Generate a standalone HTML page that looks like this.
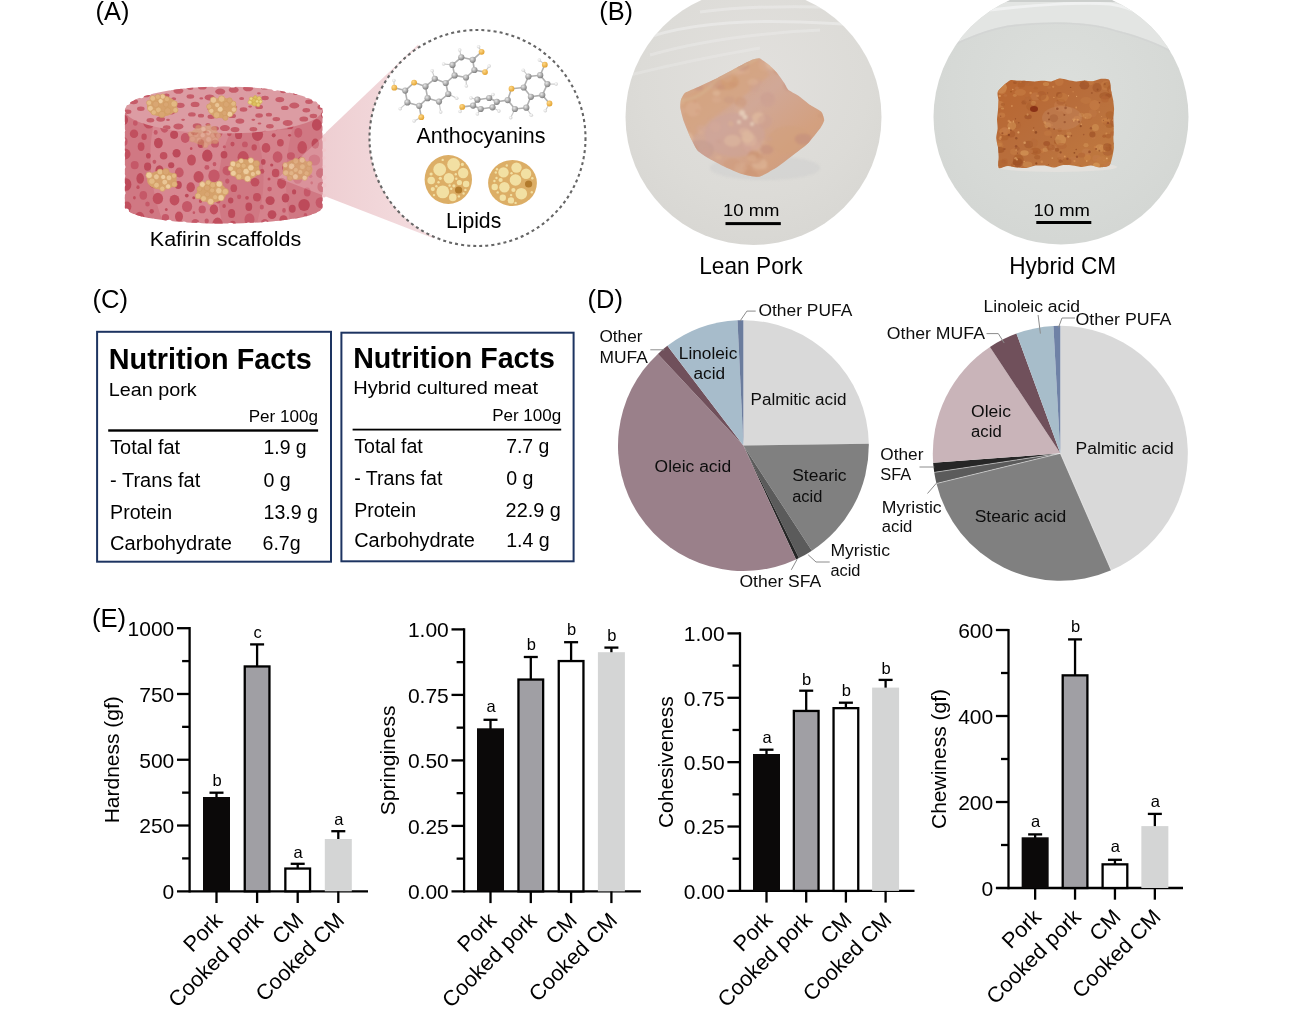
<!DOCTYPE html>
<html><head><meta charset="utf-8"><title>Figure</title>
<style>html,body{margin:0;padding:0;background:#fff;overflow:hidden}svg{display:block;will-change:transform}</style></head>
<body><svg width="1304" height="1017" viewBox="0 0 1304 1017" font-family="'Liberation Sans', Arial, Helvetica, sans-serif">
<rect width="1304" height="1017" fill="#fff"/>
<text x="95.60" y="19.80" font-size="26" fill="#000" textLength="33.88" lengthAdjust="spacingAndGlyphs">(A)</text>
<text x="599.20" y="19.80" font-size="26" fill="#000" textLength="33.88" lengthAdjust="spacingAndGlyphs">(B)</text>
<text x="92.40" y="308.30" font-size="26" fill="#000" textLength="35.55" lengthAdjust="spacingAndGlyphs">(C)</text>
<text x="587.60" y="308.20" font-size="26" fill="#000" textLength="35.35" lengthAdjust="spacingAndGlyphs">(D)</text>
<text x="91.90" y="627.20" font-size="26" fill="#000" textLength="34.18" lengthAdjust="spacingAndGlyphs">(E)</text>
<defs><linearGradient id="cone" x1="0" y1="0" x2="1" y2="0">
<stop offset="0" stop-color="#ecc8cc"/><stop offset="0.5" stop-color="#f1d6d9"/><stop offset="1" stop-color="#f6e2e4"/></linearGradient><radialGradient id="atomg" cx="0.38" cy="0.35" r="0.65"><stop offset="0" stop-color="#e8e8e8"/><stop offset="1" stop-color="#808080"/></radialGradient><radialGradient id="atomo" cx="0.38" cy="0.35" r="0.65"><stop offset="0" stop-color="#ffd98a"/><stop offset="1" stop-color="#e2a230"/></radialGradient><radialGradient id="atomh" cx="0.4" cy="0.4" r="0.6"><stop offset="0" stop-color="#ffffff"/><stop offset="1" stop-color="#cfcfcf"/></radialGradient><clipPath id="cylc"><path d="M124.89999999999999,110.0 L124.89999999999999,207.5 A98.8,16.0 0 0 0 322.5,207.5 L322.5,110.0 Z"/></clipPath><clipPath id="topc"><ellipse cx="223.7" cy="110.0" rx="98.8" ry="23.5"/></clipPath></defs>
<path d="M278,178 L418,44.5 L477.5,138 L434,238.5 Z" fill="url(#cone)"/>
<g><path d="M124.89999999999999,110.0 L124.89999999999999,207.5 A98.8,16.0 0 0 0 322.5,207.5 L322.5,110.0 Z" fill="#d07883"/><g clip-path="url(#cylc)"><path d="M155,118 Q142,170 165,228 L225,232 Q208,180 232,128 Z" fill="#d98c95" opacity="0.75"/><path d="M255,130 Q272,175 255,230 L292,230 Q280,180 292,130 Z" fill="#d98c95" opacity="0.5"/><ellipse cx="214.0" cy="175.8" rx="5.7" ry="6.4" fill="#c55868"/><ellipse cx="213.9" cy="209.5" rx="4.2" ry="5.0" fill="#c14f5e"/><ellipse cx="159.5" cy="170.4" rx="4.1" ry="5.2" fill="#bd4a5a"/><ellipse cx="141.1" cy="146.6" rx="3.4" ry="4.4" fill="#c14f5e"/><ellipse cx="231.6" cy="213.5" rx="3.6" ry="4.5" fill="#bd4a5a"/><ellipse cx="243.1" cy="157.2" rx="5.6" ry="6.1" fill="#c14f5e"/><ellipse cx="255.0" cy="182.2" rx="4.4" ry="4.2" fill="#c14f5e"/><ellipse cx="248.8" cy="206.8" rx="3.4" ry="4.2" fill="#bd4a5a"/><ellipse cx="134.0" cy="133.7" rx="4.2" ry="4.3" fill="#c14f5e"/><ellipse cx="252.3" cy="169.0" rx="3.7" ry="4.4" fill="#c14f5e"/><ellipse cx="215.0" cy="143.7" rx="3.9" ry="3.9" fill="#c55868"/><ellipse cx="266.0" cy="147.9" rx="4.3" ry="4.9" fill="#c14f5e"/><ellipse cx="226.3" cy="115.4" rx="3.8" ry="4.0" fill="#bd4a5a"/><ellipse cx="135.5" cy="113.9" rx="3.4" ry="4.1" fill="#c55868"/><ellipse cx="165.4" cy="217.7" rx="3.7" ry="3.8" fill="#c55868"/><ellipse cx="217.6" cy="223.8" rx="5.1" ry="6.2" fill="#c14f5e"/><ellipse cx="280.4" cy="142.8" rx="3.4" ry="3.7" fill="#c14f5e"/><ellipse cx="185.3" cy="113.7" rx="5.6" ry="5.8" fill="#bd4a5a"/><ellipse cx="276.2" cy="125.5" rx="4.2" ry="4.7" fill="#c14f5e"/><ellipse cx="265.8" cy="113.2" rx="5.0" ry="5.5" fill="#c14f5e"/><ellipse cx="207.3" cy="155.7" rx="5.2" ry="6.1" fill="#bd4a5a"/><ellipse cx="297.9" cy="223.1" rx="4.8" ry="5.7" fill="#c55868"/><ellipse cx="325.1" cy="114.2" rx="4.2" ry="5.1" fill="#bd4a5a"/><ellipse cx="202.2" cy="209.4" rx="3.6" ry="3.9" fill="#c55868"/><ellipse cx="174.5" cy="200.1" rx="4.9" ry="5.3" fill="#c14f5e"/><ellipse cx="290.9" cy="156.0" rx="4.0" ry="3.7" fill="#c55868"/><ellipse cx="140.2" cy="178.4" rx="3.8" ry="5.3" fill="#bd4a5a"/><ellipse cx="125.1" cy="154.0" rx="5.5" ry="5.4" fill="#c14f5e"/><ellipse cx="298.3" cy="132.8" rx="4.0" ry="4.9" fill="#c55868"/><ellipse cx="185.2" cy="138.0" rx="4.4" ry="4.9" fill="#c55868"/><ellipse cx="147.6" cy="166.6" rx="3.6" ry="4.2" fill="#bd4a5a"/><ellipse cx="179.0" cy="216.6" rx="4.0" ry="5.0" fill="#c14f5e"/><ellipse cx="212.6" cy="118.9" rx="4.5" ry="5.0" fill="#c55868"/><ellipse cx="179.3" cy="172.5" rx="4.4" ry="5.1" fill="#c55868"/><ellipse cx="321.5" cy="186.9" rx="4.1" ry="5.2" fill="#c14f5e"/><ellipse cx="307.2" cy="191.9" rx="3.4" ry="4.5" fill="#c55868"/><ellipse cx="126.2" cy="184.5" rx="5.2" ry="6.3" fill="#bd4a5a"/><ellipse cx="272.0" cy="214.6" rx="4.4" ry="4.4" fill="#bd4a5a"/><ellipse cx="297.7" cy="177.3" rx="4.9" ry="6.5" fill="#c55868"/><ellipse cx="199.1" cy="113.4" rx="4.0" ry="3.9" fill="#bd4a5a"/><ellipse cx="227.5" cy="170.7" rx="5.0" ry="4.8" fill="#c55868"/><ellipse cx="316.8" cy="124.9" rx="4.9" ry="5.9" fill="#bd4a5a"/><ellipse cx="257.5" cy="134.6" rx="5.6" ry="6.3" fill="#bd4a5a"/><ellipse cx="285.5" cy="198.0" rx="3.8" ry="4.5" fill="#bd4a5a"/><ellipse cx="164.6" cy="127.3" rx="4.4" ry="5.4" fill="#c55868"/><ellipse cx="292.3" cy="208.8" rx="3.4" ry="4.0" fill="#bd4a5a"/><ellipse cx="315.3" cy="143.6" rx="3.8" ry="5.1" fill="#bd4a5a"/><ellipse cx="187.1" cy="206.5" rx="5.1" ry="5.5" fill="#c55868"/><ellipse cx="299.6" cy="116.7" rx="4.8" ry="5.1" fill="#bd4a5a"/><ellipse cx="126.9" cy="206.6" rx="4.5" ry="5.0" fill="#c14f5e"/><ellipse cx="275.6" cy="173.0" rx="3.8" ry="4.3" fill="#c14f5e"/><ellipse cx="158.4" cy="143.0" rx="4.4" ry="5.3" fill="#bd4a5a"/><ellipse cx="139.7" cy="218.3" rx="4.9" ry="6.5" fill="#c14f5e"/><ellipse cx="198.6" cy="176.8" rx="5.1" ry="5.9" fill="#c14f5e"/><ellipse cx="320.9" cy="173.2" rx="4.9" ry="5.0" fill="#bd4a5a"/><ellipse cx="191.5" cy="160.0" rx="4.4" ry="5.6" fill="#c14f5e"/><ellipse cx="238.6" cy="134.9" rx="3.6" ry="4.2" fill="#bd4a5a"/><ellipse cx="232.7" cy="224.8" rx="3.2" ry="4.0" fill="#c14f5e"/><ellipse cx="221.9" cy="190.8" rx="3.5" ry="3.7" fill="#c55868"/><ellipse cx="264.8" cy="223.4" rx="3.9" ry="4.4" fill="#c55868"/><ellipse cx="143.3" cy="195.3" rx="3.8" ry="4.4" fill="#c55868"/><ellipse cx="148.9" cy="122.0" rx="5.7" ry="6.6" fill="#c14f5e"/><ellipse cx="203.9" cy="190.1" rx="3.7" ry="3.7" fill="#bd4a5a"/><ellipse cx="285.4" cy="167.0" rx="3.4" ry="4.3" fill="#c55868"/><ellipse cx="244.2" cy="113.5" rx="3.7" ry="4.4" fill="#c55868"/><ellipse cx="323.6" cy="214.9" rx="3.4" ry="4.5" fill="#bd4a5a"/><ellipse cx="190.7" cy="187.2" rx="4.2" ry="5.0" fill="#c14f5e"/><ellipse cx="233.8" cy="188.2" rx="3.3" ry="3.9" fill="#c14f5e"/><ellipse cx="218.0" cy="131.3" rx="4.8" ry="6.5" fill="#c55868"/><ellipse cx="314.4" cy="160.0" rx="5.8" ry="5.6" fill="#c55868"/><ellipse cx="257.0" cy="197.2" rx="4.0" ry="4.2" fill="#c14f5e"/><ellipse cx="194.5" cy="129.6" rx="4.5" ry="5.7" fill="#bd4a5a"/><ellipse cx="281.6" cy="183.2" rx="4.5" ry="5.5" fill="#c14f5e"/><ellipse cx="123.8" cy="141.6" rx="3.8" ry="4.4" fill="#c55868"/><ellipse cx="157.9" cy="198.5" rx="5.2" ry="5.7" fill="#c14f5e"/><ellipse cx="277.6" cy="157.0" rx="4.9" ry="5.8" fill="#c55868"/><ellipse cx="249.5" cy="219.4" rx="5.0" ry="6.2" fill="#c55868"/><ellipse cx="320.6" cy="202.6" rx="5.0" ry="5.4" fill="#c55868"/><ellipse cx="174.1" cy="134.8" rx="4.0" ry="4.1" fill="#bd4a5a"/><ellipse cx="244.4" cy="126.0" rx="3.8" ry="4.4" fill="#bd4a5a"/><ellipse cx="289.9" cy="125.4" rx="3.8" ry="3.7" fill="#bd4a5a"/><ellipse cx="304.1" cy="205.0" rx="5.8" ry="5.9" fill="#bd4a5a"/><ellipse cx="178.3" cy="185.0" rx="3.5" ry="4.1" fill="#bd4a5a"/><ellipse cx="155.4" cy="224.7" rx="4.2" ry="4.6" fill="#bd4a5a"/><ellipse cx="163.6" cy="155.7" rx="3.8" ry="3.8" fill="#c14f5e"/><ellipse cx="176.6" cy="153.2" rx="4.1" ry="4.3" fill="#bd4a5a"/><ellipse cx="270.1" cy="200.6" rx="4.6" ry="4.3" fill="#bd4a5a"/><ellipse cx="195.3" cy="223.4" rx="4.0" ry="4.5" fill="#c55868"/><ellipse cx="310.5" cy="223.7" rx="3.3" ry="3.9" fill="#c14f5e"/><ellipse cx="154.4" cy="182.9" rx="5.2" ry="5.4" fill="#bd4a5a"/><ellipse cx="302.2" cy="147.4" rx="4.8" ry="6.3" fill="#c14f5e"/><ellipse cx="301.2" cy="161.3" rx="3.9" ry="4.7" fill="#c55868"/><ellipse cx="134.7" cy="165.1" rx="4.0" ry="4.2" fill="#c55868"/><ellipse cx="224.0" cy="154.8" rx="3.4" ry="3.8" fill="#bd4a5a"/><ellipse cx="123.5" cy="119.9" rx="4.6" ry="5.1" fill="#bd4a5a"/><ellipse cx="200.9" cy="143.7" rx="3.3" ry="4.4" fill="#bd4a5a"/><ellipse cx="283.5" cy="219.6" rx="4.1" ry="4.3" fill="#c14f5e"/><ellipse cx="206.9" cy="167.4" rx="2.5" ry="2.3" fill="#c55868"/><ellipse cx="206.2" cy="129.0" rx="2.1" ry="2.8" fill="#c14f5e"/><ellipse cx="262.1" cy="171.3" rx="2.2" ry="2.5" fill="#c14f5e"/><ellipse cx="243.1" cy="177.5" rx="2.2" ry="2.4" fill="#c55868"/><ellipse cx="151.7" cy="211.3" rx="2.2" ry="2.4" fill="#bd4a5a"/><ellipse cx="269.6" cy="189.1" rx="2.3" ry="2.3" fill="#c55868"/><ellipse cx="232.5" cy="144.1" rx="2.1" ry="2.4" fill="#c14f5e"/><ellipse cx="169.8" cy="178.5" rx="2.1" ry="2.5" fill="#c14f5e"/><ellipse cx="144.1" cy="136.8" rx="2.7" ry="3.2" fill="#c14f5e"/><ellipse cx="135.3" cy="123.0" rx="2.3" ry="2.8" fill="#c55868"/><ellipse cx="229.3" cy="133.6" rx="2.3" ry="2.6" fill="#c14f5e"/><ellipse cx="263.3" cy="161.9" rx="2.3" ry="2.8" fill="#bd4a5a"/><ellipse cx="259.5" cy="123.2" rx="2.2" ry="2.6" fill="#bd4a5a"/><ellipse cx="164.0" cy="114.9" rx="2.3" ry="2.6" fill="#c55868"/><ellipse cx="294.1" cy="191.9" rx="2.1" ry="2.7" fill="#bd4a5a"/><ellipse cx="122.6" cy="217.3" rx="3.1" ry="3.6" fill="#c55868"/><ellipse cx="148.4" cy="155.7" rx="2.4" ry="2.8" fill="#bd4a5a"/><ellipse cx="254.2" cy="147.4" rx="2.7" ry="3.1" fill="#c14f5e"/><ellipse cx="122.6" cy="131.2" rx="2.2" ry="2.3" fill="#c14f5e"/><ellipse cx="230.7" cy="200.6" rx="2.7" ry="3.0" fill="#bd4a5a"/><ellipse cx="171.2" cy="165.3" rx="3.1" ry="3.0" fill="#bd4a5a"/><ellipse cx="147.5" cy="204.1" rx="2.3" ry="2.5" fill="#c55868"/><ellipse cx="218.2" cy="200.7" rx="2.3" ry="2.7" fill="#c55868"/><ellipse cx="122.1" cy="174.4" rx="2.3" ry="2.4" fill="#bd4a5a"/><ellipse cx="239.1" cy="196.8" rx="2.1" ry="2.4" fill="#c55868"/><ellipse cx="261.8" cy="207.0" rx="2.1" ry="2.5" fill="#c55868"/><ellipse cx="234.5" cy="122.2" rx="2.8" ry="3.4" fill="#c14f5e"/><ellipse cx="206.7" cy="221.1" rx="2.1" ry="2.7" fill="#c55868"/><ellipse cx="244.9" cy="144.4" rx="2.9" ry="2.9" fill="#c55868"/><ellipse cx="227.3" cy="181.1" rx="2.2" ry="2.6" fill="#c55868"/><ellipse cx="288.4" cy="112.4" rx="2.6" ry="3.0" fill="#bd4a5a"/><ellipse cx="274.8" cy="225.5" rx="2.7" ry="3.5" fill="#c14f5e"/><ellipse cx="123.3" cy="166.9" rx="2.3" ry="2.8" fill="#c55868"/><ellipse cx="305.4" cy="215.0" rx="1.8" ry="2.1" fill="#c55868"/><ellipse cx="174.1" cy="118.7" rx="2.0" ry="2.2" fill="#c14f5e"/><ellipse cx="203.4" cy="122.7" rx="1.7" ry="2.1" fill="#c55868"/><ellipse cx="123.4" cy="198.0" rx="1.5" ry="1.6" fill="#c14f5e"/><ellipse cx="154.4" cy="161.8" rx="1.9" ry="2.1" fill="#c55868"/><ellipse cx="200.5" cy="201.1" rx="1.7" ry="1.9" fill="#c14f5e"/><ellipse cx="138.0" cy="187.2" rx="1.6" ry="1.9" fill="#c14f5e"/><ellipse cx="289.6" cy="135.3" rx="1.5" ry="1.4" fill="#bd4a5a"/><ellipse cx="273.7" cy="135.3" rx="2.0" ry="2.1" fill="#bd4a5a"/><ellipse cx="191.2" cy="148.5" rx="1.3" ry="1.5" fill="#c14f5e"/><ellipse cx="271.7" cy="165.0" rx="1.6" ry="1.6" fill="#bd4a5a"/><ellipse cx="311.7" cy="182.8" rx="1.3" ry="1.6" fill="#c14f5e"/><ellipse cx="186.8" cy="195.6" rx="1.9" ry="1.9" fill="#bd4a5a"/><ellipse cx="193.8" cy="197.8" rx="1.5" ry="1.5" fill="#bd4a5a"/><ellipse cx="269.0" cy="178.9" rx="1.5" ry="1.5" fill="#c14f5e"/><ellipse cx="247.0" cy="197.8" rx="1.9" ry="1.9" fill="#c14f5e"/><ellipse cx="224.4" cy="146.8" rx="1.6" ry="1.5" fill="#c55868"/><ellipse cx="324.3" cy="158.0" rx="1.4" ry="1.7" fill="#bd4a5a"/><ellipse cx="166.3" cy="209.5" rx="1.4" ry="1.6" fill="#c14f5e"/><ellipse cx="224.1" cy="206.1" rx="1.8" ry="2.0" fill="#c14f5e"/><ellipse cx="134.4" cy="197.8" rx="1.4" ry="1.8" fill="#c14f5e"/><ellipse cx="234.3" cy="112.4" rx="1.4" ry="1.8" fill="#bd4a5a"/><ellipse cx="284.0" cy="210.4" rx="1.8" ry="2.3" fill="#c55868"/><ellipse cx="214.5" cy="164.1" rx="1.9" ry="2.2" fill="#c55868"/><ellipse cx="155.7" cy="132.4" rx="2.0" ry="2.3" fill="#c55868"/><ellipse cx="293.8" cy="167.6" rx="2.0" ry="2.2" fill="#bd4a5a"/><ellipse cx="176.3" cy="125.5" rx="1.9" ry="2.2" fill="#c55868"/><ellipse cx="310.6" cy="176.3" rx="1.9" ry="1.8" fill="#c55868"/><ellipse cx="193.9" cy="212.7" rx="1.3" ry="1.4" fill="#c55868"/><ellipse cx="309.4" cy="116.8" rx="1.5" ry="1.4" fill="#c14f5e"/><path d="M322.6,137 L278,178 L322.6,195.2 Z" fill="#f3d0d4" opacity="0.3"/></g><ellipse cx="223.7" cy="110.0" rx="98.8" ry="23.5" fill="#dc9ca3"/><g clip-path="url(#topc)"><ellipse cx="253.4" cy="129.2" rx="3.8" ry="2.2" fill="#c65c69"/><ellipse cx="195.1" cy="104.4" rx="4.4" ry="2.6" fill="#c65c69"/><ellipse cx="259.2" cy="106.9" rx="3.8" ry="2.2" fill="#c65c69"/><ellipse cx="145.7" cy="94.7" rx="4.4" ry="2.6" fill="#c65c69"/><ellipse cx="166.7" cy="127.4" rx="3.8" ry="2.2" fill="#c65c69"/><ellipse cx="313.4" cy="116.0" rx="3.8" ry="2.2" fill="#c65c69"/><ellipse cx="277.9" cy="133.2" rx="4.4" ry="2.6" fill="#c65c69"/><ellipse cx="292.2" cy="131.9" rx="3.8" ry="2.2" fill="#c65c69"/><ellipse cx="254.6" cy="99.4" rx="3.8" ry="2.2" fill="#c65c69"/><ellipse cx="136.2" cy="131.9" rx="5.0" ry="3.0" fill="#c65c69"/><ellipse cx="178.4" cy="90.8" rx="5.0" ry="3.0" fill="#c65c69"/><ellipse cx="157.4" cy="106.1" rx="5.0" ry="3.0" fill="#c65c69"/><ellipse cx="306.3" cy="110.3" rx="3.8" ry="2.2" fill="#c65c69"/><ellipse cx="209.6" cy="97.4" rx="5.0" ry="3.0" fill="#c65c69"/><ellipse cx="321.9" cy="107.1" rx="4.4" ry="2.6" fill="#c65c69"/><ellipse cx="218.6" cy="106.6" rx="3.8" ry="2.2" fill="#c65c69"/><ellipse cx="170.6" cy="111.6" rx="5.0" ry="3.0" fill="#c65c69"/><ellipse cx="178.4" cy="126.4" rx="5.0" ry="3.0" fill="#c65c69"/><ellipse cx="233.7" cy="89.8" rx="5.0" ry="3.0" fill="#c65c69"/><ellipse cx="275.6" cy="87.3" rx="4.4" ry="2.6" fill="#c65c69"/><ellipse cx="228.8" cy="101.7" rx="3.8" ry="2.2" fill="#c65c69"/><ellipse cx="160.6" cy="119.1" rx="4.4" ry="2.6" fill="#c65c69"/><ellipse cx="264.6" cy="87.4" rx="3.8" ry="2.2" fill="#c65c69"/><ellipse cx="211.3" cy="116.8" rx="3.8" ry="2.2" fill="#c65c69"/><ellipse cx="314.4" cy="91.9" rx="5.0" ry="3.0" fill="#c65c69"/><ellipse cx="232.2" cy="115.9" rx="3.8" ry="2.2" fill="#c65c69"/><ellipse cx="287.7" cy="122.9" rx="5.0" ry="3.0" fill="#c65c69"/><ellipse cx="150.4" cy="120.3" rx="3.8" ry="2.2" fill="#c65c69"/><ellipse cx="137.6" cy="88.5" rx="5.0" ry="3.0" fill="#c65c69"/><ellipse cx="190.4" cy="96.5" rx="3.8" ry="2.2" fill="#c65c69"/><ellipse cx="166.2" cy="87.4" rx="3.8" ry="2.2" fill="#c65c69"/><ellipse cx="133.6" cy="101.6" rx="4.4" ry="2.6" fill="#c65c69"/><ellipse cx="215.1" cy="128.4" rx="3.8" ry="2.2" fill="#c65c69"/><ellipse cx="296.6" cy="92.9" rx="3.8" ry="2.2" fill="#c65c69"/><ellipse cx="269.9" cy="126.2" rx="3.8" ry="2.2" fill="#c65c69"/><ellipse cx="259.1" cy="115.5" rx="3.8" ry="2.2" fill="#c65c69"/><ellipse cx="239.9" cy="121.1" rx="4.4" ry="2.6" fill="#c65c69"/><ellipse cx="133.6" cy="122.2" rx="3.8" ry="2.2" fill="#c65c69"/><ellipse cx="197.1" cy="125.9" rx="4.4" ry="2.6" fill="#c65c69"/><ellipse cx="202.3" cy="86.9" rx="4.4" ry="2.6" fill="#c65c69"/><ellipse cx="243.5" cy="109.5" rx="3.8" ry="2.2" fill="#c65c69"/><ellipse cx="151.5" cy="132.0" rx="4.4" ry="2.6" fill="#c65c69"/><ellipse cx="180.2" cy="105.3" rx="4.4" ry="2.6" fill="#c65c69"/><ellipse cx="311.8" cy="130.0" rx="4.4" ry="2.6" fill="#c65c69"/><ellipse cx="140.8" cy="108.7" rx="3.8" ry="2.2" fill="#c65c69"/><ellipse cx="224.9" cy="128.1" rx="5.0" ry="3.0" fill="#c65c69"/><ellipse cx="303.8" cy="119.0" rx="4.4" ry="2.6" fill="#c65c69"/><ellipse cx="235.0" cy="129.6" rx="4.4" ry="2.6" fill="#c65c69"/><ellipse cx="284.8" cy="107.9" rx="3.8" ry="2.2" fill="#c65c69"/><ellipse cx="276.3" cy="119.1" rx="3.8" ry="2.2" fill="#c65c69"/><ellipse cx="294.3" cy="105.5" rx="5.0" ry="3.0" fill="#c65c69"/><ellipse cx="265.0" cy="98.0" rx="3.8" ry="2.2" fill="#c65c69"/><ellipse cx="322.3" cy="117.5" rx="3.8" ry="2.2" fill="#c65c69"/><ellipse cx="220.2" cy="91.6" rx="5.0" ry="3.0" fill="#c65c69"/><ellipse cx="127.6" cy="111.8" rx="3.8" ry="2.2" fill="#c65c69"/><ellipse cx="321.5" cy="130.7" rx="4.4" ry="2.6" fill="#c65c69"/><ellipse cx="279.8" cy="99.6" rx="4.4" ry="2.6" fill="#c65c69"/><ellipse cx="223.2" cy="116.1" rx="3.8" ry="2.2" fill="#c65c69"/><ellipse cx="309.0" cy="101.8" rx="3.8" ry="2.2" fill="#c65c69"/><ellipse cx="248.1" cy="88.3" rx="5.0" ry="3.0" fill="#c65c69"/><ellipse cx="191.9" cy="114.4" rx="3.8" ry="2.2" fill="#c65c69"/><ellipse cx="125.4" cy="128.2" rx="4.4" ry="2.6" fill="#c65c69"/><ellipse cx="125.1" cy="87.4" rx="5.0" ry="3.0" fill="#c65c69"/><ellipse cx="151.8" cy="87.0" rx="4.4" ry="2.6" fill="#c65c69"/><ellipse cx="306.0" cy="88.7" rx="2.5" ry="1.5" fill="#c65c69"/><ellipse cx="142.1" cy="125.1" rx="3.1" ry="1.9" fill="#c65c69"/><ellipse cx="241.6" cy="98.6" rx="2.5" ry="1.5" fill="#c65c69"/><ellipse cx="166.4" cy="95.5" rx="3.1" ry="1.9" fill="#c65c69"/><ellipse cx="304.4" cy="132.8" rx="2.5" ry="1.5" fill="#c65c69"/><ellipse cx="265.0" cy="132.7" rx="3.1" ry="1.9" fill="#c65c69"/><ellipse cx="234.8" cy="107.0" rx="2.5" ry="1.5" fill="#c65c69"/><ellipse cx="160.2" cy="131.0" rx="1.9" ry="1.1" fill="#c65c69"/><ellipse cx="201.0" cy="115.7" rx="3.1" ry="1.9" fill="#c65c69"/><ellipse cx="206.2" cy="132.7" rx="3.1" ry="1.9" fill="#c65c69"/><ellipse cx="259.5" cy="123.5" rx="1.9" ry="1.1" fill="#c65c69"/><ellipse cx="173.7" cy="98.7" rx="2.5" ry="1.5" fill="#c65c69"/><ellipse cx="253.3" cy="119.8" rx="1.9" ry="1.1" fill="#c65c69"/><ellipse cx="258.9" cy="93.3" rx="1.9" ry="1.1" fill="#c65c69"/><ellipse cx="250.1" cy="106.6" rx="1.9" ry="1.1" fill="#c65c69"/><ellipse cx="283.3" cy="91.3" rx="3.1" ry="1.9" fill="#c65c69"/><ellipse cx="153.8" cy="113.9" rx="1.9" ry="1.1" fill="#c65c69"/><ellipse cx="209.1" cy="109.1" rx="1.9" ry="1.1" fill="#c65c69"/><ellipse cx="201.3" cy="98.4" rx="1.9" ry="1.1" fill="#c65c69"/><ellipse cx="299.8" cy="128.0" rx="2.5" ry="1.5" fill="#c65c69"/><ellipse cx="207.9" cy="124.4" rx="2.5" ry="1.5" fill="#c65c69"/><ellipse cx="158.8" cy="97.1" rx="2.5" ry="1.5" fill="#c65c69"/><ellipse cx="183.1" cy="119.8" rx="1.9" ry="1.1" fill="#c65c69"/><ellipse cx="168.0" cy="119.9" rx="1.9" ry="1.1" fill="#c65c69"/><ellipse cx="125.7" cy="99.8" rx="2.5" ry="1.5" fill="#c65c69"/><ellipse cx="190.3" cy="88.0" rx="3.1" ry="1.9" fill="#c65c69"/><ellipse cx="268.9" cy="114.7" rx="3.1" ry="1.9" fill="#c65c69"/></g><circle cx="123.3" cy="112.2" r="1.9" fill="#fff"/><circle cx="324.1" cy="114.6" r="2.2" fill="#fff"/><circle cx="123.3" cy="122.9" r="1.7" fill="#fff"/><circle cx="324.1" cy="124.6" r="2.2" fill="#fff"/><circle cx="123.3" cy="130.4" r="1.9" fill="#fff"/><circle cx="324.1" cy="131.8" r="1.9" fill="#fff"/><circle cx="123.3" cy="139.9" r="2.0" fill="#fff"/><circle cx="324.1" cy="139.5" r="2.2" fill="#f0c9cd"/><circle cx="123.3" cy="151.8" r="1.9" fill="#fff"/><circle cx="324.1" cy="150.1" r="1.9" fill="#f0c9cd"/><circle cx="123.3" cy="157.9" r="1.9" fill="#fff"/><circle cx="324.1" cy="157.9" r="1.6" fill="#f0c9cd"/><circle cx="123.3" cy="166.9" r="2.3" fill="#fff"/><circle cx="324.1" cy="166.5" r="1.5" fill="#f0c9cd"/><circle cx="123.3" cy="176.0" r="2.1" fill="#fff"/><circle cx="324.1" cy="177.6" r="2.4" fill="#f0c9cd"/><circle cx="123.3" cy="184.9" r="2.1" fill="#fff"/><circle cx="324.1" cy="185.2" r="2.3" fill="#f0c9cd"/><circle cx="123.3" cy="193.0" r="2.3" fill="#fff"/><circle cx="324.1" cy="195.6" r="1.9" fill="#f0c9cd"/><circle cx="123.3" cy="204.5" r="1.5" fill="#fff"/><circle cx="324.1" cy="202.5" r="2.1" fill="#fff"/><circle cx="124.1" cy="106.0" r="2.1" fill="#fff"/><circle cx="127.4" cy="102.3" r="2.7" fill="#fff"/><circle cx="131.8" cy="98.8" r="2.4" fill="#fff"/><circle cx="141.3" cy="95.5" r="2.7" fill="#fff"/><circle cx="148.8" cy="92.5" r="2.6" fill="#fff"/><circle cx="159.2" cy="89.9" r="2.0" fill="#fff"/><circle cx="170.4" cy="87.8" r="2.5" fill="#fff"/><circle cx="185.2" cy="86.1" r="2.3" fill="#fff"/><circle cx="202.0" cy="84.9" r="2.1" fill="#fff"/><circle cx="215.0" cy="84.4" r="2.9" fill="#fff"/><circle cx="232.7" cy="84.4" r="3.2" fill="#fff"/><circle cx="247.0" cy="84.9" r="2.2" fill="#fff"/><circle cx="262.8" cy="86.1" r="2.3" fill="#fff"/><circle cx="274.8" cy="87.8" r="3.1" fill="#fff"/><circle cx="287.4" cy="89.9" r="2.8" fill="#fff"/><circle cx="298.7" cy="92.5" r="2.2" fill="#fff"/><circle cx="307.3" cy="95.5" r="2.6" fill="#fff"/><circle cx="314.5" cy="98.8" r="2.6" fill="#fff"/><circle cx="319.6" cy="102.3" r="2.4" fill="#fff"/><circle cx="321.9" cy="106.0" r="2.1" fill="#fff"/><circle cx="323.0" cy="211.3" r="2.6" fill="#fff"/><circle cx="319.2" cy="214.0" r="2.5" fill="#fff"/><circle cx="314.3" cy="216.7" r="3.0" fill="#fff"/><circle cx="305.3" cy="219.1" r="2.6" fill="#fff"/><circle cx="292.1" cy="221.2" r="2.4" fill="#fff"/><circle cx="282.3" cy="223.0" r="2.3" fill="#fff"/><circle cx="265.6" cy="224.4" r="2.8" fill="#fff"/><circle cx="248.4" cy="225.4" r="2.8" fill="#fff"/><circle cx="230.7" cy="225.8" r="3.1" fill="#fff"/><circle cx="213.5" cy="225.8" r="2.2" fill="#fff"/><circle cx="198.3" cy="225.4" r="2.9" fill="#fff"/><circle cx="183.9" cy="224.4" r="3.0" fill="#fff"/><circle cx="168.9" cy="223.0" r="3.2" fill="#fff"/><circle cx="153.7" cy="221.2" r="2.4" fill="#fff"/><circle cx="142.5" cy="219.1" r="2.3" fill="#fff"/><circle cx="132.9" cy="216.7" r="2.6" fill="#fff"/><circle cx="128.2" cy="214.0" r="2.2" fill="#fff"/><circle cx="126.3" cy="211.3" r="2.7" fill="#fff"/><g opacity="1"><ellipse cx="161.9" cy="106.3" rx="14.8" ry="10.2" fill="#d6a26c"/><circle cx="158.4" cy="109.9" r="2.9" fill="#e3b983" stroke="#cf9a62" stroke-width="0.6"/><circle cx="150.4" cy="108.3" r="2.9" fill="#eac595" stroke="#cf9a62" stroke-width="0.6"/><circle cx="167.7" cy="110.9" r="3.2" fill="#d9a672" stroke="#cf9a62" stroke-width="0.6"/><circle cx="152.8" cy="98.3" r="2.9" fill="#e5bd88" stroke="#cf9a62" stroke-width="0.6"/><circle cx="166.9" cy="99.2" r="2.6" fill="#e0b27c" stroke="#cf9a62" stroke-width="0.6"/><circle cx="153.8" cy="112.4" r="2.6" fill="#e3b983" stroke="#cf9a62" stroke-width="0.6"/><circle cx="174.1" cy="103.9" r="3.2" fill="#e3b983" stroke="#cf9a62" stroke-width="0.6"/><circle cx="166.0" cy="104.5" r="2.6" fill="#d9a672" stroke="#cf9a62" stroke-width="0.6"/><circle cx="161.9" cy="114.4" r="3.2" fill="#d9a672" stroke="#cf9a62" stroke-width="0.6"/><circle cx="160.6" cy="101.1" r="2.6" fill="#eecd9e" stroke="#cf9a62" stroke-width="0.6"/><circle cx="155.8" cy="104.2" r="3.2" fill="#d9a672" stroke="#cf9a62" stroke-width="0.6"/><circle cx="175.4" cy="110.1" r="2.6" fill="#e3b983" stroke="#cf9a62" stroke-width="0.6"/><circle cx="162.7" cy="96.6" r="2.6" fill="#eac595" stroke="#cf9a62" stroke-width="0.6"/><circle cx="149.1" cy="102.8" r="2.6" fill="#e5bd88" stroke="#cf9a62" stroke-width="0.6"/><circle cx="157.8" cy="96.8" r="2.6" fill="#e0b27c" stroke="#cf9a62" stroke-width="0.6"/></g><g opacity="1"><ellipse cx="222.2" cy="108" rx="14.399999999999999" ry="10.2" fill="#d6a26c"/><circle cx="220.2" cy="109.2" r="2.9" fill="#eecd9e" stroke="#cf9a62" stroke-width="0.6"/><circle cx="213.4" cy="100.1" r="3.2" fill="#eac595" stroke="#cf9a62" stroke-width="0.6"/><circle cx="226.3" cy="104.3" r="2.9" fill="#d9a672" stroke="#cf9a62" stroke-width="0.6"/><circle cx="216.6" cy="115.0" r="3.2" fill="#e0b27c" stroke="#cf9a62" stroke-width="0.6"/><circle cx="221.6" cy="99.0" r="3.2" fill="#e5bd88" stroke="#cf9a62" stroke-width="0.6"/><circle cx="229.8" cy="114.1" r="2.9" fill="#eecd9e" stroke="#cf9a62" stroke-width="0.6"/><circle cx="211.3" cy="110.8" r="2.6" fill="#eac595" stroke="#cf9a62" stroke-width="0.6"/><circle cx="233.9" cy="109.6" r="2.6" fill="#eac595" stroke="#cf9a62" stroke-width="0.6"/><circle cx="233.3" cy="103.7" r="2.6" fill="#e3b983" stroke="#cf9a62" stroke-width="0.6"/><circle cx="225.4" cy="117.8" r="2.6" fill="#d9a672" stroke="#cf9a62" stroke-width="0.6"/><circle cx="217.2" cy="105.1" r="2.6" fill="#eac595" stroke="#cf9a62" stroke-width="0.6"/><circle cx="229.6" cy="100.4" r="2.6" fill="#d9a672" stroke="#cf9a62" stroke-width="0.6"/><circle cx="209.2" cy="106.5" r="2.6" fill="#e0b27c" stroke="#cf9a62" stroke-width="0.6"/><circle cx="224.5" cy="113.1" r="2.6" fill="#d9a672" stroke="#cf9a62" stroke-width="0.6"/></g><g opacity="1"><ellipse cx="255.5" cy="101.3" rx="6.4" ry="4.3" fill="#d8b855"/><circle cx="259.1" cy="98.5" r="2.0" fill="#e6cc72" stroke="#cfae50" stroke-width="0.6"/><circle cx="253.9" cy="100.4" r="2.0" fill="#ddc060" stroke="#cfae50" stroke-width="0.6"/><circle cx="258.1" cy="104.8" r="2.0" fill="#e6cc72" stroke="#cfae50" stroke-width="0.6"/><circle cx="254.3" cy="104.0" r="2.0" fill="#ddc060" stroke="#cfae50" stroke-width="0.6"/><circle cx="250.0" cy="102.2" r="2.0" fill="#eed88a" stroke="#cfae50" stroke-width="0.6"/><circle cx="260.5" cy="101.6" r="1.7" fill="#eed88a" stroke="#cfae50" stroke-width="0.6"/><circle cx="255.3" cy="97.2" r="1.7" fill="#ddc060" stroke="#cfae50" stroke-width="0.6"/><circle cx="251.1" cy="98.6" r="1.7" fill="#eed88a" stroke="#cfae50" stroke-width="0.6"/><circle cx="257.1" cy="101.4" r="1.7" fill="#eed88a" stroke="#cfae50" stroke-width="0.6"/></g><g opacity="0.5"><ellipse cx="204.5" cy="135.8" rx="14.399999999999999" ry="9.3" fill="#d6a26c"/><circle cx="196.0" cy="134.9" r="2.9" fill="#e0b27c" stroke="#cf9a62" stroke-width="0.6"/><circle cx="202.7" cy="135.2" r="2.6" fill="#eecd9e" stroke="#cf9a62" stroke-width="0.6"/><circle cx="208.6" cy="132.8" r="2.9" fill="#eac595" stroke="#cf9a62" stroke-width="0.6"/><circle cx="208.6" cy="139.4" r="2.9" fill="#eac595" stroke="#cf9a62" stroke-width="0.6"/><circle cx="198.4" cy="128.0" r="2.9" fill="#d9a672" stroke="#cf9a62" stroke-width="0.6"/><circle cx="214.0" cy="129.2" r="2.9" fill="#e0b27c" stroke="#cf9a62" stroke-width="0.6"/><circle cx="199.0" cy="139.8" r="2.6" fill="#e3b983" stroke="#cf9a62" stroke-width="0.6"/><circle cx="215.2" cy="140.5" r="3.2" fill="#e0b27c" stroke="#cf9a62" stroke-width="0.6"/><circle cx="205.2" cy="144.9" r="2.9" fill="#e0b27c" stroke="#cf9a62" stroke-width="0.6"/><circle cx="203.4" cy="129.1" r="2.6" fill="#eecd9e" stroke="#cf9a62" stroke-width="0.6"/><circle cx="192.5" cy="139.1" r="2.9" fill="#e0b27c" stroke="#cf9a62" stroke-width="0.6"/><circle cx="218.3" cy="135.6" r="2.6" fill="#eecd9e" stroke="#cf9a62" stroke-width="0.6"/><circle cx="190.8" cy="134.2" r="2.6" fill="#e0b27c" stroke="#cf9a62" stroke-width="0.6"/><circle cx="208.5" cy="126.9" r="2.6" fill="#d9a672" stroke="#cf9a62" stroke-width="0.6"/><circle cx="213.0" cy="135.5" r="2.6" fill="#e0b27c" stroke="#cf9a62" stroke-width="0.6"/></g><g opacity="1"><ellipse cx="161.9" cy="180.1" rx="14.8" ry="9.7" fill="#d6a26c"/><circle cx="164.8" cy="182.1" r="2.9" fill="#eac595" stroke="#cf9a62" stroke-width="0.6"/><circle cx="156.5" cy="185.1" r="2.9" fill="#e5bd88" stroke="#cf9a62" stroke-width="0.6"/><circle cx="151.9" cy="181.2" r="3.2" fill="#e3b983" stroke="#cf9a62" stroke-width="0.6"/><circle cx="160.0" cy="172.0" r="2.9" fill="#e5bd88" stroke="#cf9a62" stroke-width="0.6"/><circle cx="169.0" cy="177.8" r="2.9" fill="#eac595" stroke="#cf9a62" stroke-width="0.6"/><circle cx="174.3" cy="184.2" r="2.9" fill="#e0b27c" stroke="#cf9a62" stroke-width="0.6"/><circle cx="149.1" cy="175.3" r="3.2" fill="#eecd9e" stroke="#cf9a62" stroke-width="0.6"/><circle cx="156.4" cy="176.8" r="2.9" fill="#eac595" stroke="#cf9a62" stroke-width="0.6"/><circle cx="162.3" cy="188.7" r="2.6" fill="#e5bd88" stroke="#cf9a62" stroke-width="0.6"/><circle cx="168.1" cy="186.4" r="2.6" fill="#eecd9e" stroke="#cf9a62" stroke-width="0.6"/><circle cx="163.2" cy="177.0" r="2.6" fill="#eecd9e" stroke="#cf9a62" stroke-width="0.6"/><circle cx="165.9" cy="171.8" r="3.2" fill="#d9a672" stroke="#cf9a62" stroke-width="0.6"/><circle cx="174.0" cy="175.8" r="2.6" fill="#e3b983" stroke="#cf9a62" stroke-width="0.6"/></g><g opacity="1"><ellipse cx="211.7" cy="192.3" rx="14.8" ry="10.2" fill="#d6a26c"/><circle cx="219.2" cy="184.1" r="3.2" fill="#eecd9e" stroke="#cf9a62" stroke-width="0.6"/><circle cx="210.7" cy="201.5" r="3.2" fill="#eac595" stroke="#cf9a62" stroke-width="0.6"/><circle cx="225.2" cy="191.6" r="3.2" fill="#e3b983" stroke="#cf9a62" stroke-width="0.6"/><circle cx="208.2" cy="182.7" r="2.6" fill="#e3b983" stroke="#cf9a62" stroke-width="0.6"/><circle cx="207.2" cy="194.3" r="2.6" fill="#d9a672" stroke="#cf9a62" stroke-width="0.6"/><circle cx="203.6" cy="198.5" r="2.9" fill="#e5bd88" stroke="#cf9a62" stroke-width="0.6"/><circle cx="221.0" cy="197.7" r="3.2" fill="#eecd9e" stroke="#cf9a62" stroke-width="0.6"/><circle cx="199.5" cy="189.0" r="2.6" fill="#d9a672" stroke="#cf9a62" stroke-width="0.6"/><circle cx="212.2" cy="190.3" r="2.6" fill="#e0b27c" stroke="#cf9a62" stroke-width="0.6"/><circle cx="215.2" cy="197.2" r="2.6" fill="#e3b983" stroke="#cf9a62" stroke-width="0.6"/><circle cx="202.4" cy="184.5" r="2.9" fill="#eecd9e" stroke="#cf9a62" stroke-width="0.6"/><circle cx="218.8" cy="190.7" r="3.2" fill="#eac595" stroke="#cf9a62" stroke-width="0.6"/><circle cx="198.1" cy="195.9" r="2.9" fill="#e3b983" stroke="#cf9a62" stroke-width="0.6"/><circle cx="207.1" cy="187.9" r="2.9" fill="#d9a672" stroke="#cf9a62" stroke-width="0.6"/><circle cx="212.8" cy="185.1" r="2.9" fill="#e0b27c" stroke="#cf9a62" stroke-width="0.6"/></g><g opacity="1"><ellipse cx="245" cy="169.5" rx="14.399999999999999" ry="10.2" fill="#d6a26c"/><circle cx="233.0" cy="164.0" r="2.9" fill="#eecd9e" stroke="#cf9a62" stroke-width="0.6"/><circle cx="238.9" cy="176.7" r="2.9" fill="#e3b983" stroke="#cf9a62" stroke-width="0.6"/><circle cx="246.1" cy="171.4" r="3.2" fill="#eecd9e" stroke="#cf9a62" stroke-width="0.6"/><circle cx="241.2" cy="161.0" r="2.6" fill="#eac595" stroke="#cf9a62" stroke-width="0.6"/><circle cx="239.3" cy="171.0" r="2.9" fill="#d9a672" stroke="#cf9a62" stroke-width="0.6"/><circle cx="250.9" cy="160.6" r="2.9" fill="#eecd9e" stroke="#cf9a62" stroke-width="0.6"/><circle cx="252.9" cy="174.0" r="2.6" fill="#eac595" stroke="#cf9a62" stroke-width="0.6"/><circle cx="250.9" cy="167.7" r="3.2" fill="#eecd9e" stroke="#cf9a62" stroke-width="0.6"/><circle cx="258.0" cy="172.5" r="2.6" fill="#eac595" stroke="#cf9a62" stroke-width="0.6"/><circle cx="233.4" cy="173.2" r="2.9" fill="#eecd9e" stroke="#cf9a62" stroke-width="0.6"/><circle cx="247.6" cy="178.6" r="3.2" fill="#eecd9e" stroke="#cf9a62" stroke-width="0.6"/><circle cx="256.3" cy="163.6" r="3.2" fill="#d9a672" stroke="#cf9a62" stroke-width="0.6"/><circle cx="243.6" cy="165.8" r="2.6" fill="#e0b27c" stroke="#cf9a62" stroke-width="0.6"/><circle cx="238.2" cy="165.3" r="2.6" fill="#e3b983" stroke="#cf9a62" stroke-width="0.6"/><circle cx="230.8" cy="168.6" r="2.6" fill="#eac595" stroke="#cf9a62" stroke-width="0.6"/></g><g opacity="0.85"><ellipse cx="297.7" cy="169.5" rx="14.8" ry="10.2" fill="#d6a26c"/><circle cx="291.6" cy="166.3" r="3.2" fill="#eecd9e" stroke="#cf9a62" stroke-width="0.6"/><circle cx="300.2" cy="172.1" r="2.6" fill="#e5bd88" stroke="#cf9a62" stroke-width="0.6"/><circle cx="306.6" cy="173.3" r="2.6" fill="#e0b27c" stroke="#cf9a62" stroke-width="0.6"/><circle cx="308.6" cy="168.5" r="2.6" fill="#d9a672" stroke="#cf9a62" stroke-width="0.6"/><circle cx="291.4" cy="173.2" r="2.6" fill="#e3b983" stroke="#cf9a62" stroke-width="0.6"/><circle cx="302.4" cy="166.7" r="2.9" fill="#e3b983" stroke="#cf9a62" stroke-width="0.6"/><circle cx="295.4" cy="176.7" r="2.9" fill="#eecd9e" stroke="#cf9a62" stroke-width="0.6"/><circle cx="285.3" cy="165.2" r="2.6" fill="#eecd9e" stroke="#cf9a62" stroke-width="0.6"/><circle cx="285.8" cy="172.6" r="2.9" fill="#e5bd88" stroke="#cf9a62" stroke-width="0.6"/><circle cx="302.2" cy="160.2" r="2.9" fill="#eac595" stroke="#cf9a62" stroke-width="0.6"/><circle cx="304.7" cy="177.8" r="2.6" fill="#eecd9e" stroke="#cf9a62" stroke-width="0.6"/><circle cx="290.0" cy="178.0" r="2.6" fill="#d9a672" stroke="#cf9a62" stroke-width="0.6"/><circle cx="295.8" cy="161.1" r="2.9" fill="#e0b27c" stroke="#cf9a62" stroke-width="0.6"/><circle cx="309.5" cy="163.6" r="2.6" fill="#e0b27c" stroke="#cf9a62" stroke-width="0.6"/><circle cx="295.7" cy="169.9" r="2.6" fill="#e3b983" stroke="#cf9a62" stroke-width="0.6"/></g></g>
<circle cx="477.5" cy="138" r="108" fill="#fff" stroke="#666" stroke-width="2.1" stroke-dasharray="3 3.1"/>
<g><line x1="414.1" y1="82.6" x2="405.2" y2="90.6" stroke="#b0b0b0" stroke-width="1.6"/><line x1="405.2" y1="90.6" x2="407.4" y2="102.4" stroke="#b0b0b0" stroke-width="1.6"/><line x1="407.4" y1="102.4" x2="419.2" y2="105.8" stroke="#b0b0b0" stroke-width="1.6"/><line x1="419.2" y1="105.8" x2="427.6" y2="98.2" stroke="#b0b0b0" stroke-width="1.6"/><line x1="427.6" y1="98.2" x2="425.5" y2="86.4" stroke="#b0b0b0" stroke-width="1.6"/><line x1="425.5" y1="86.4" x2="414.1" y2="82.6" stroke="#b0b0b0" stroke-width="1.6"/><line x1="425.5" y1="86.4" x2="434.8" y2="78.8" stroke="#b0b0b0" stroke-width="1.6"/><line x1="434.8" y1="78.8" x2="445.7" y2="83.0" stroke="#b0b0b0" stroke-width="1.6"/><line x1="445.7" y1="83.0" x2="448.3" y2="94.0" stroke="#b0b0b0" stroke-width="1.6"/><line x1="448.3" y1="94.0" x2="439.0" y2="101.6" stroke="#b0b0b0" stroke-width="1.6"/><line x1="439.0" y1="101.6" x2="427.6" y2="98.2" stroke="#b0b0b0" stroke-width="1.6"/><line x1="445.7" y1="83.0" x2="454.6" y2="75.4" stroke="#b0b0b0" stroke-width="1.6"/><line x1="454.6" y1="75.4" x2="452.5" y2="64.9" stroke="#b0b0b0" stroke-width="1.6"/><line x1="452.5" y1="64.9" x2="461.3" y2="57.3" stroke="#b0b0b0" stroke-width="1.6"/><line x1="461.3" y1="57.3" x2="472.7" y2="59.8" stroke="#b0b0b0" stroke-width="1.6"/><line x1="472.7" y1="59.8" x2="474.4" y2="70.0" stroke="#b0b0b0" stroke-width="1.6"/><line x1="474.4" y1="70.0" x2="466.0" y2="77.5" stroke="#b0b0b0" stroke-width="1.6"/><line x1="466.0" y1="77.5" x2="454.6" y2="75.4" stroke="#b0b0b0" stroke-width="1.6"/><line x1="394.3" y1="87.7" x2="405.2" y2="90.6" stroke="#b0b0b0" stroke-width="1.6"/><line x1="421.3" y1="117.2" x2="419.2" y2="105.8" stroke="#b0b0b0" stroke-width="1.6"/><line x1="481.6" y1="51.8" x2="472.7" y2="59.8" stroke="#b0b0b0" stroke-width="1.6"/><line x1="485.0" y1="72.1" x2="474.4" y2="70.0" stroke="#b0b0b0" stroke-width="1.6"/><line x1="477.4" y1="99.7" x2="489.2" y2="98.0" stroke="#b0b0b0" stroke-width="1.6"/><line x1="489.2" y1="98.0" x2="496.8" y2="101.8" stroke="#b0b0b0" stroke-width="1.6"/><line x1="496.8" y1="101.8" x2="492.5" y2="107.3" stroke="#b0b0b0" stroke-width="1.6"/><line x1="492.5" y1="107.3" x2="480.7" y2="109.0" stroke="#b0b0b0" stroke-width="1.6"/><line x1="480.7" y1="109.0" x2="473.1" y2="105.6" stroke="#b0b0b0" stroke-width="1.6"/><line x1="473.1" y1="105.6" x2="477.4" y2="99.7" stroke="#b0b0b0" stroke-width="1.6"/><line x1="462.2" y1="106.9" x2="473.1" y2="105.6" stroke="#b0b0b0" stroke-width="1.6"/><line x1="496.8" y1="101.8" x2="507.7" y2="100.1" stroke="#b0b0b0" stroke-width="1.6"/><line x1="507.7" y1="100.1" x2="511.5" y2="88.7" stroke="#b0b0b0" stroke-width="1.6"/><line x1="511.5" y1="88.7" x2="523.7" y2="87.5" stroke="#b0b0b0" stroke-width="1.6"/><line x1="523.7" y1="87.5" x2="530.9" y2="96.8" stroke="#b0b0b0" stroke-width="1.6"/><line x1="530.9" y1="96.8" x2="526.3" y2="107.7" stroke="#b0b0b0" stroke-width="1.6"/><line x1="526.3" y1="107.7" x2="514.9" y2="109.0" stroke="#b0b0b0" stroke-width="1.6"/><line x1="514.9" y1="109.0" x2="507.7" y2="100.1" stroke="#b0b0b0" stroke-width="1.6"/><line x1="523.7" y1="87.5" x2="528.4" y2="76.5" stroke="#b0b0b0" stroke-width="1.6"/><line x1="528.4" y1="76.5" x2="540.2" y2="75.2" stroke="#b0b0b0" stroke-width="1.6"/><line x1="540.2" y1="75.2" x2="547.4" y2="84.1" stroke="#b0b0b0" stroke-width="1.6"/><line x1="547.4" y1="84.1" x2="542.3" y2="95.1" stroke="#b0b0b0" stroke-width="1.6"/><line x1="542.3" y1="95.1" x2="530.9" y2="96.8" stroke="#b0b0b0" stroke-width="1.6"/><line x1="544.8" y1="64.7" x2="540.2" y2="75.2" stroke="#b0b0b0" stroke-width="1.6"/><line x1="549.5" y1="103.5" x2="542.3" y2="95.1" stroke="#b0b0b0" stroke-width="1.6"/><line x1="393.9" y1="80.5" x2="394.3" y2="87.7" stroke="#c8c8c8" stroke-width="1.1"/><line x1="400.2" y1="108.7" x2="407.4" y2="102.4" stroke="#c8c8c8" stroke-width="1.1"/><line x1="432.2" y1="70.8" x2="434.8" y2="78.8" stroke="#c8c8c8" stroke-width="1.1"/><line x1="456.7" y1="98.2" x2="448.3" y2="94" stroke="#c8c8c8" stroke-width="1.1"/><line x1="440.7" y1="112.1" x2="439" y2="101.6" stroke="#c8c8c8" stroke-width="1.1"/><line x1="443.6" y1="64" x2="452.5" y2="64.9" stroke="#c8c8c8" stroke-width="1.1"/><line x1="459.7" y1="50.1" x2="461.3" y2="57.3" stroke="#c8c8c8" stroke-width="1.1"/><line x1="466.4" y1="86" x2="466" y2="77.5" stroke="#c8c8c8" stroke-width="1.1"/><line x1="478.6" y1="46.7" x2="481.6" y2="51.8" stroke="#c8c8c8" stroke-width="1.1"/><line x1="489.2" y1="66.1" x2="485" y2="72.1" stroke="#c8c8c8" stroke-width="1.1"/><line x1="414.1" y1="121" x2="421.3" y2="117.2" stroke="#c8c8c8" stroke-width="1.1"/><line x1="471" y1="98" x2="477.4" y2="99.7" stroke="#c8c8c8" stroke-width="1.1"/><line x1="493" y1="94.6" x2="489.2" y2="98" stroke="#c8c8c8" stroke-width="1.1"/><line x1="498.9" y1="111.1" x2="492.5" y2="107.3" stroke="#c8c8c8" stroke-width="1.1"/><line x1="477.4" y1="114" x2="480.7" y2="109" stroke="#c8c8c8" stroke-width="1.1"/><line x1="510.7" y1="117.8" x2="514.9" y2="109" stroke="#c8c8c8" stroke-width="1.1"/><line x1="531.3" y1="115.3" x2="526.3" y2="107.7" stroke="#c8c8c8" stroke-width="1.1"/><line x1="523.3" y1="70.2" x2="528.4" y2="76.5" stroke="#c8c8c8" stroke-width="1.1"/><line x1="556.2" y1="84.1" x2="547.4" y2="84.1" stroke="#c8c8c8" stroke-width="1.1"/><line x1="539.4" y1="60.1" x2="544.8" y2="64.7" stroke="#c8c8c8" stroke-width="1.1"/><line x1="545.3" y1="110.7" x2="549.5" y2="103.5" stroke="#c8c8c8" stroke-width="1.1"/><line x1="460.1" y1="111.5" x2="462.2" y2="106.9" stroke="#c8c8c8" stroke-width="1.1"/><circle cx="393.9" cy="80.5" r="1.8" fill="url(#atomh)"/><circle cx="400.2" cy="108.7" r="1.8" fill="url(#atomh)"/><circle cx="432.2" cy="70.8" r="1.8" fill="url(#atomh)"/><circle cx="456.7" cy="98.2" r="1.8" fill="url(#atomh)"/><circle cx="440.7" cy="112.1" r="1.8" fill="url(#atomh)"/><circle cx="443.6" cy="64" r="1.8" fill="url(#atomh)"/><circle cx="459.7" cy="50.1" r="1.8" fill="url(#atomh)"/><circle cx="466.4" cy="86" r="1.8" fill="url(#atomh)"/><circle cx="478.6" cy="46.7" r="1.8" fill="url(#atomh)"/><circle cx="489.2" cy="66.1" r="1.8" fill="url(#atomh)"/><circle cx="414.1" cy="121" r="1.8" fill="url(#atomh)"/><circle cx="471" cy="98" r="1.8" fill="url(#atomh)"/><circle cx="493" cy="94.6" r="1.8" fill="url(#atomh)"/><circle cx="498.9" cy="111.1" r="1.8" fill="url(#atomh)"/><circle cx="477.4" cy="114" r="1.8" fill="url(#atomh)"/><circle cx="510.7" cy="117.8" r="1.8" fill="url(#atomh)"/><circle cx="531.3" cy="115.3" r="1.8" fill="url(#atomh)"/><circle cx="523.3" cy="70.2" r="1.8" fill="url(#atomh)"/><circle cx="556.2" cy="84.1" r="1.8" fill="url(#atomh)"/><circle cx="539.4" cy="60.1" r="1.8" fill="url(#atomh)"/><circle cx="545.3" cy="110.7" r="1.8" fill="url(#atomh)"/><circle cx="460.1" cy="111.5" r="1.8" fill="url(#atomh)"/><circle cx="405.2" cy="90.6" r="3.1" fill="url(#atomg)"/><circle cx="407.4" cy="102.4" r="3.1" fill="url(#atomg)"/><circle cx="419.2" cy="105.8" r="3.1" fill="url(#atomg)"/><circle cx="427.6" cy="98.2" r="3.1" fill="url(#atomg)"/><circle cx="425.5" cy="86.4" r="3.1" fill="url(#atomg)"/><circle cx="434.8" cy="78.8" r="3.1" fill="url(#atomg)"/><circle cx="445.7" cy="83" r="3.1" fill="url(#atomg)"/><circle cx="448.3" cy="94" r="3.1" fill="url(#atomg)"/><circle cx="439" cy="101.6" r="3.1" fill="url(#atomg)"/><circle cx="454.6" cy="75.4" r="3.1" fill="url(#atomg)"/><circle cx="452.5" cy="64.9" r="3.1" fill="url(#atomg)"/><circle cx="461.3" cy="57.3" r="3.1" fill="url(#atomg)"/><circle cx="472.7" cy="59.8" r="3.1" fill="url(#atomg)"/><circle cx="474.4" cy="70" r="3.1" fill="url(#atomg)"/><circle cx="466" cy="77.5" r="3.1" fill="url(#atomg)"/><circle cx="477.4" cy="99.7" r="3.1" fill="url(#atomg)"/><circle cx="489.2" cy="98" r="3.1" fill="url(#atomg)"/><circle cx="496.8" cy="101.8" r="3.1" fill="url(#atomg)"/><circle cx="492.5" cy="107.3" r="3.1" fill="url(#atomg)"/><circle cx="480.7" cy="109" r="3.1" fill="url(#atomg)"/><circle cx="473.1" cy="105.6" r="3.1" fill="url(#atomg)"/><circle cx="507.7" cy="100.1" r="3.1" fill="url(#atomg)"/><circle cx="523.7" cy="87.5" r="3.1" fill="url(#atomg)"/><circle cx="530.9" cy="96.8" r="3.1" fill="url(#atomg)"/><circle cx="526.3" cy="107.7" r="3.1" fill="url(#atomg)"/><circle cx="514.9" cy="109" r="3.1" fill="url(#atomg)"/><circle cx="528.4" cy="76.5" r="3.1" fill="url(#atomg)"/><circle cx="540.2" cy="75.2" r="3.1" fill="url(#atomg)"/><circle cx="547.4" cy="84.1" r="3.1" fill="url(#atomg)"/><circle cx="542.3" cy="95.1" r="3.1" fill="url(#atomg)"/><circle cx="414.1" cy="82.6" r="2.9" fill="url(#atomo)"/><circle cx="394.3" cy="87.7" r="2.9" fill="url(#atomo)"/><circle cx="421.3" cy="117.2" r="2.9" fill="url(#atomo)"/><circle cx="481.6" cy="51.8" r="2.9" fill="url(#atomo)"/><circle cx="485" cy="72.1" r="2.9" fill="url(#atomo)"/><circle cx="462.2" cy="106.9" r="2.9" fill="url(#atomo)"/><circle cx="511.5" cy="88.7" r="2.9" fill="url(#atomo)"/><circle cx="544.8" cy="64.7" r="2.9" fill="url(#atomo)"/><circle cx="549.5" cy="103.5" r="2.9" fill="url(#atomo)"/></g>
<ellipse cx="448.3" cy="179.5" rx="23.7" ry="24.4" fill="#dcae66"/><circle cx="439.7" cy="169.5" r="6.4" fill="#f2e0a3"/><circle cx="442.8" cy="191.9" r="6.4" fill="#f2e0a3"/><circle cx="463.2" cy="173.0" r="5.2" fill="#f2e0a3"/><circle cx="448.9" cy="178.3" r="5.2" fill="#f2e0a3"/><circle cx="453.6" cy="164.5" r="6.4" fill="#f2e0a3"/><circle cx="452.8" cy="197.4" r="3.8" fill="#f2e0a3"/><circle cx="431.2" cy="180.5" r="3.8" fill="#f2e0a3"/><circle cx="466.1" cy="184.0" r="3.2" fill="#f2e0a3"/><circle cx="453.9" cy="185.8" r="1.6" fill="#f2e0a3"/><circle cx="434.0" cy="195.1" r="1.2" fill="#f2e0a3"/><circle cx="465.4" cy="189.9" r="1.2" fill="#f2e0a3"/><circle cx="438.5" cy="182.2" r="1.2" fill="#f2e0a3"/><circle cx="459.4" cy="182.5" r="2.6" fill="#f2e0a3"/><circle cx="455.8" cy="174.3" r="1.2" fill="#f2e0a3"/><circle cx="442.7" cy="159.9" r="1.2" fill="#f2e0a3"/><circle cx="432.8" cy="189.1" r="2.1" fill="#f2e0a3"/><circle cx="463.6" cy="193.5" r="1.2" fill="#f2e0a3"/><circle cx="462.4" cy="164.4" r="1.6" fill="#f2e0a3"/><circle cx="431.1" cy="174.0" r="1.6" fill="#f2e0a3"/><circle cx="449.6" cy="185.5" r="1.2" fill="#f2e0a3"/><circle cx="440.3" cy="178.3" r="1.6" fill="#f2e0a3"/><circle cx="436.4" cy="186.2" r="1.2" fill="#f2e0a3"/><circle cx="456.3" cy="178.8" r="1.2" fill="#f2e0a3"/><circle cx="458.9" cy="196.4" r="1.2" fill="#f2e0a3"/><circle cx="451.2" cy="188.8" r="1.2" fill="#f2e0a3"/><circle cx="458.6" cy="190" r="3.6" fill="#b27b2d"/>
<ellipse cx="512.5" cy="183.1" rx="24.4" ry="23.0" fill="#dcae66"/><circle cx="521.3" cy="193.7" r="5.8" fill="#f2e0a3"/><circle cx="503.5" cy="172.4" r="5.2" fill="#f2e0a3"/><circle cx="504.4" cy="187.3" r="5.2" fill="#f2e0a3"/><circle cx="515.5" cy="180.0" r="5.8" fill="#f2e0a3"/><circle cx="526.1" cy="173.8" r="5.2" fill="#f2e0a3"/><circle cx="516.5" cy="167.6" r="5.2" fill="#f2e0a3"/><circle cx="494.7" cy="187.0" r="3.2" fill="#f2e0a3"/><circle cx="510.9" cy="200.4" r="3.2" fill="#f2e0a3"/><circle cx="502.8" cy="197.7" r="3.2" fill="#f2e0a3"/><circle cx="494.4" cy="181.0" r="1.2" fill="#f2e0a3"/><circle cx="513.4" cy="190.0" r="2.1" fill="#f2e0a3"/><circle cx="500.6" cy="180.0" r="2.1" fill="#f2e0a3"/><circle cx="511.1" cy="195.1" r="1.2" fill="#f2e0a3"/><circle cx="497.7" cy="192.4" r="1.2" fill="#f2e0a3"/><circle cx="506.8" cy="165.5" r="1.2" fill="#f2e0a3"/><circle cx="495.8" cy="172.5" r="1.2" fill="#f2e0a3"/><circle cx="531.8" cy="192.2" r="1.2" fill="#f2e0a3"/><circle cx="532.3" cy="178.2" r="1.2" fill="#f2e0a3"/><circle cx="496.5" cy="178.0" r="1.2" fill="#f2e0a3"/><circle cx="515.6" cy="202.9" r="1.2" fill="#f2e0a3"/><circle cx="511.5" cy="173.3" r="1.2" fill="#f2e0a3"/><circle cx="497.0" cy="169.3" r="1.2" fill="#f2e0a3"/><circle cx="528.6" cy="184" r="3.6" fill="#b27b2d"/>
<text x="149.80" y="245.90" font-size="20.2" fill="#000" textLength="151.50" lengthAdjust="spacingAndGlyphs">Kafirin scaffolds</text>
<text x="416.50" y="143.30" font-size="21.2" fill="#000" textLength="128.98" lengthAdjust="spacingAndGlyphs">Anthocyanins</text>
<text x="445.90" y="227.60" font-size="21.2" fill="#000">Lipids</text>
<defs><radialGradient id="bg1" cx="0.5" cy="0.35" r="0.7">
<stop offset="0" stop-color="#e2e0dd"/><stop offset="0.6" stop-color="#dcdbd7"/><stop offset="1" stop-color="#d6d5d1"/></radialGradient><radialGradient id="bg2" cx="0.5" cy="0.4" r="0.7">
<stop offset="0" stop-color="#dcdfdc"/><stop offset="0.6" stop-color="#d6d9d6"/><stop offset="1" stop-color="#d1d4d1"/></radialGradient><linearGradient id="m1" x1="0" y1="0" x2="1" y2="1">
<stop offset="0" stop-color="#d6a47c"/><stop offset="0.45" stop-color="#d1a897"/><stop offset="0.75" stop-color="#d3a07f"/><stop offset="1" stop-color="#c69a88"/></linearGradient><linearGradient id="m2" x1="0" y1="0" x2="1" y2="1">
<stop offset="0" stop-color="#b8652f"/><stop offset="0.5" stop-color="#b86e3c"/><stop offset="1" stop-color="#c07a3f"/></linearGradient><filter id="bl1" x="-10%" y="-10%" width="120%" height="120%"><feGaussianBlur stdDeviation="1.3"/></filter><filter id="bl2" x="-10%" y="-10%" width="120%" height="120%"><feGaussianBlur stdDeviation="0.6"/></filter><clipPath id="cc1"><circle cx="753.5" cy="117" r="128"/></clipPath><clipPath id="cc2"><circle cx="1061" cy="117" r="127.5"/></clipPath><clipPath id="mc1"><path d="M681.0,99.6 C681.4,98.3 683.7,93.7 685.1,92.7 C686.5,91.7 695.0,88.4 697.5,87.2 C700.0,86.0 712.2,80.5 715.4,78.9 C718.6,77.3 733.0,69.5 736.1,67.9 C739.2,66.3 750.6,60.4 752.6,59.6 C754.6,58.8 758.1,57.8 759.5,58.3 C760.9,58.8 767.6,63.8 769.1,65.1 C770.6,66.4 776.1,71.9 777.4,73.4 C778.7,74.9 783.4,81.6 784.3,83.0 C785.2,84.4 787.2,88.9 788.4,89.9 C789.5,90.9 796.3,94.1 798.1,95.4 C799.9,96.7 808.4,103.7 810.4,105.1 C812.4,106.5 820.4,110.7 821.5,112.0 C822.6,113.3 824.3,118.8 824.2,120.2 C824.1,121.6 821.5,126.5 820.1,128.5 C818.7,130.4 809.9,141.4 807.7,143.6 C805.5,145.8 796.4,152.7 793.9,154.6 C791.4,156.5 780.3,165.2 777.4,167.0 C774.5,168.8 762.5,176.1 759.5,176.7 C756.5,177.3 744.5,174.7 741.6,173.9 C738.7,173.1 728.0,168.4 725.1,167.0 C722.2,165.6 709.5,158.8 707.2,157.4 C704.9,156.0 698.9,152.1 697.5,150.5 C696.1,148.9 691.8,140.5 690.7,138.1 C689.6,135.7 684.7,124.1 683.8,121.6 C682.9,119.1 680.5,109.6 680.3,107.8 C680.1,106.0 680.6,100.9 681.0,99.6Z"/></clipPath><clipPath id="mc2"><path d="M1009.7,80.4 C1012.2,79.1 1015.9,80.7 1018.0,80.8 C1020.1,80.8 1024.2,80.9 1026.3,80.9 C1028.4,81.0 1032.5,81.4 1034.6,81.4 C1036.7,81.4 1040.8,80.8 1042.9,80.8 C1045.0,80.8 1049.1,81.6 1051.2,81.4 C1053.3,81.1 1057.4,78.7 1059.5,78.5 C1061.6,78.3 1065.7,79.5 1067.8,79.9 C1069.9,80.3 1074.0,81.3 1076.1,81.4 C1078.2,81.5 1082.3,80.5 1084.4,80.5 C1086.5,80.5 1090.6,81.5 1092.7,81.3 C1094.8,81.1 1098.9,78.9 1101.0,78.8 C1103.1,78.6 1108.1,78.5 1109.3,79.9 C1110.5,81.3 1110.5,87.2 1110.9,89.7 C1111.4,92.1 1112.6,96.9 1113.0,99.3 C1113.4,101.8 1114.0,106.6 1114.1,109.0 C1114.1,111.4 1113.3,116.2 1113.3,118.7 C1113.2,121.1 1113.7,125.9 1113.8,128.3 C1113.8,130.8 1113.4,135.6 1113.4,138.0 C1113.4,140.4 1114.0,145.3 1113.9,147.7 C1113.7,150.1 1112.8,155.1 1112.2,157.3 C1111.6,159.6 1110.8,164.2 1109.3,165.5 C1107.8,166.7 1102.4,167.4 1100.1,167.4 C1097.8,167.4 1093.2,165.5 1090.9,165.4 C1088.6,165.3 1084.0,166.9 1081.7,166.9 C1079.3,166.8 1074.7,165.6 1072.4,165.4 C1070.1,165.1 1065.5,164.7 1063.2,165.0 C1060.9,165.3 1056.3,167.5 1054.0,167.6 C1051.7,167.7 1047.1,165.9 1044.8,165.6 C1042.5,165.4 1037.9,165.4 1035.6,165.6 C1033.3,165.9 1028.7,167.7 1026.3,167.9 C1024.0,168.2 1019.4,167.9 1017.1,167.6 C1014.8,167.4 1010.2,165.8 1007.9,165.9 C1005.6,165.9 999.9,169.0 998.7,167.9 C997.5,166.7 998.7,159.2 998.6,156.7 C998.5,154.1 998.3,149.7 998.0,147.3 C997.7,145.0 996.2,140.3 996.2,138.0 C996.1,135.7 997.5,131.0 997.6,128.7 C997.7,126.3 997.0,121.7 997.0,119.3 C997.1,117.0 997.8,112.3 998.0,110.0 C998.2,107.7 998.5,103.0 998.5,100.7 C998.5,98.3 996.6,93.9 998.0,91.3 C999.4,88.8 1007.2,81.7 1009.7,80.4Z"/></clipPath></defs>
<g clip-path="url(#cc1)"><rect x="620" y="-20" width="270" height="280" fill="url(#bg1)"/><path d="M640,40 Q700,18 800,22 T880,30" fill="none" stroke="#f2f2f2" stroke-width="3" opacity="0.5"/><path d="M650,55 Q720,35 820,30" fill="none" stroke="#f2f2f2" stroke-width="3" opacity="0.35"/><path d="M700,12 Q760,4 850,8" fill="none" stroke="#f2f2f2" stroke-width="3" opacity="0.4"/><path d="M630,75 Q690,60 760,48" fill="none" stroke="#f2f2f2" stroke-width="3" opacity="0.25"/><ellipse cx="765" cy="168" rx="55" ry="12" fill="#cdcdcd" opacity="0.5" filter="url(#bl1)"/></g>
<path d="M681.0,99.6 C681.4,98.3 683.7,93.7 685.1,92.7 C686.5,91.7 695.0,88.4 697.5,87.2 C700.0,86.0 712.2,80.5 715.4,78.9 C718.6,77.3 733.0,69.5 736.1,67.9 C739.2,66.3 750.6,60.4 752.6,59.6 C754.6,58.8 758.1,57.8 759.5,58.3 C760.9,58.8 767.6,63.8 769.1,65.1 C770.6,66.4 776.1,71.9 777.4,73.4 C778.7,74.9 783.4,81.6 784.3,83.0 C785.2,84.4 787.2,88.9 788.4,89.9 C789.5,90.9 796.3,94.1 798.1,95.4 C799.9,96.7 808.4,103.7 810.4,105.1 C812.4,106.5 820.4,110.7 821.5,112.0 C822.6,113.3 824.3,118.8 824.2,120.2 C824.1,121.6 821.5,126.5 820.1,128.5 C818.7,130.4 809.9,141.4 807.7,143.6 C805.5,145.8 796.4,152.7 793.9,154.6 C791.4,156.5 780.3,165.2 777.4,167.0 C774.5,168.8 762.5,176.1 759.5,176.7 C756.5,177.3 744.5,174.7 741.6,173.9 C738.7,173.1 728.0,168.4 725.1,167.0 C722.2,165.6 709.5,158.8 707.2,157.4 C704.9,156.0 698.9,152.1 697.5,150.5 C696.1,148.9 691.8,140.5 690.7,138.1 C689.6,135.7 684.7,124.1 683.8,121.6 C682.9,119.1 680.5,109.6 680.3,107.8 C680.1,106.0 680.6,100.9 681.0,99.6Z" fill="url(#m1)"/><g clip-path="url(#mc1)"><g filter="url(#bl1)"><path d="M680,100 L757,58 L770,75 L745,95 L710,120 L690,140 Z" fill="#d6a27c" opacity="0.55" filter="url(#bl1)"/><ellipse cx="735" cy="135" rx="30" ry="22" fill="#cda49c" opacity="0.5"/><ellipse cx="790" cy="140" rx="22" ry="14" fill="#d2a07c" opacity="0.5"/><ellipse cx="700" cy="150" rx="14" ry="10" fill="#c49a90" opacity="0.5"/><ellipse cx="725" cy="82" rx="14" ry="8" fill="#cf9468" opacity="0.45"/><ellipse cx="727.0" cy="76.1" rx="6.6" ry="6.1" fill="#dcb194" opacity="0.28"/><ellipse cx="764.5" cy="167.2" rx="3.5" ry="2.7" fill="#dcb194" opacity="0.27"/><ellipse cx="693.2" cy="108.9" rx="7.8" ry="7.6" fill="#dcb194" opacity="0.47"/><ellipse cx="764.5" cy="65.4" rx="6.1" ry="6.0" fill="#dcb194" opacity="0.27"/><ellipse cx="804.5" cy="92.8" rx="3.0" ry="2.5" fill="#dcb194" opacity="0.45"/><ellipse cx="778.9" cy="70.4" rx="6.0" ry="4.5" fill="#cc9474" opacity="0.44"/><ellipse cx="689.1" cy="65.2" rx="3.4" ry="2.8" fill="#cda092" opacity="0.52"/><ellipse cx="747.5" cy="168.8" rx="4.5" ry="4.2" fill="#cc9474" opacity="0.49"/><ellipse cx="715.4" cy="126.9" rx="5.7" ry="5.1" fill="#d6ab9c" opacity="0.35"/><ellipse cx="822.1" cy="72.2" rx="4.9" ry="3.3" fill="#d6ab9c" opacity="0.42"/><ellipse cx="685.7" cy="138.2" rx="7.4" ry="6.7" fill="#e4c0a2" opacity="0.54"/><ellipse cx="729.3" cy="100.0" rx="5.5" ry="3.4" fill="#c38e7e" opacity="0.28"/><ellipse cx="719.1" cy="141.6" rx="2.5" ry="2.2" fill="#cda092" opacity="0.48"/><ellipse cx="824.0" cy="156.6" rx="4.0" ry="3.8" fill="#c38e7e" opacity="0.37"/><ellipse cx="816.4" cy="100.7" rx="6.3" ry="3.9" fill="#c38e7e" opacity="0.52"/><ellipse cx="698.8" cy="87.7" rx="4.7" ry="3.0" fill="#c38e7e" opacity="0.41"/><ellipse cx="759.7" cy="164.0" rx="7.7" ry="5.5" fill="#e4c0a2" opacity="0.40"/><ellipse cx="732.0" cy="164.1" rx="8.7" ry="5.5" fill="#cc9474" opacity="0.30"/><ellipse cx="775.5" cy="59.4" rx="7.8" ry="5.5" fill="#cc9474" opacity="0.25"/><ellipse cx="740.7" cy="102.3" rx="6.0" ry="5.2" fill="#cc9474" opacity="0.43"/><ellipse cx="769.6" cy="139.1" rx="2.4" ry="2.2" fill="#cda092" opacity="0.39"/><ellipse cx="737.9" cy="70.4" rx="6.4" ry="4.4" fill="#dcb194" opacity="0.59"/><ellipse cx="743.9" cy="71.2" rx="6.2" ry="3.7" fill="#dcb194" opacity="0.30"/><ellipse cx="694.7" cy="101.6" rx="2.2" ry="1.8" fill="#cc9474" opacity="0.30"/><ellipse cx="716.6" cy="99.7" rx="4.5" ry="2.9" fill="#dcb194" opacity="0.42"/><ellipse cx="821.8" cy="115.6" rx="4.2" ry="2.7" fill="#cc9474" opacity="0.37"/><ellipse cx="718.4" cy="157.5" rx="3.1" ry="2.1" fill="#dcb194" opacity="0.58"/><ellipse cx="732.5" cy="140.8" rx="8.4" ry="6.0" fill="#e4c0a2" opacity="0.48"/><ellipse cx="693.2" cy="159.5" rx="5.6" ry="4.2" fill="#cc9474" opacity="0.33"/><ellipse cx="758.5" cy="118.3" rx="6.5" ry="6.0" fill="#e4c0a2" opacity="0.59"/><ellipse cx="803.6" cy="154.7" rx="7.7" ry="7.1" fill="#cda092" opacity="0.32"/><ellipse cx="751.5" cy="145.7" rx="8.9" ry="7.0" fill="#d6ab9c" opacity="0.32"/><ellipse cx="767.7" cy="99.3" rx="7.7" ry="7.6" fill="#cda092" opacity="0.58"/><ellipse cx="732.9" cy="84.5" rx="3.6" ry="2.6" fill="#cc9474" opacity="0.42"/><ellipse cx="822.9" cy="131.2" rx="2.0" ry="1.5" fill="#cda092" opacity="0.48"/><ellipse cx="801.0" cy="72.4" rx="4.7" ry="4.2" fill="#cda092" opacity="0.42"/><ellipse cx="705.9" cy="152.7" rx="4.3" ry="3.3" fill="#cda092" opacity="0.39"/><ellipse cx="817.3" cy="145.0" rx="3.2" ry="1.9" fill="#cc9474" opacity="0.46"/><ellipse cx="747.5" cy="136.7" rx="6.3" ry="6.2" fill="#e4c0a2" opacity="0.48"/><ellipse cx="730.8" cy="123.8" rx="2.9" ry="2.7" fill="#dcb194" opacity="0.50"/><ellipse cx="694.9" cy="147.9" rx="3.0" ry="2.8" fill="#cc9474" opacity="0.32"/><ellipse cx="716.5" cy="93.2" rx="3.7" ry="2.7" fill="#e4c0a2" opacity="0.44"/><ellipse cx="801.0" cy="65.3" rx="7.2" ry="6.2" fill="#c38e7e" opacity="0.54"/><ellipse cx="754.9" cy="157.3" rx="8.1" ry="6.6" fill="#cc9474" opacity="0.43"/><ellipse cx="682.7" cy="110.8" rx="3.3" ry="3.0" fill="#dcb194" opacity="0.30"/><ellipse cx="700.5" cy="132.3" rx="2.8" ry="2.1" fill="#dcb194" opacity="0.43"/><ellipse cx="760.5" cy="152.1" rx="2.7" ry="1.7" fill="#e4c0a2" opacity="0.32"/><ellipse cx="686.1" cy="69.7" rx="5.2" ry="4.7" fill="#dcb194" opacity="0.57"/><ellipse cx="744.3" cy="131.5" rx="5.5" ry="3.8" fill="#e4c0a2" opacity="0.35"/><ellipse cx="753.7" cy="154.9" rx="5.6" ry="4.9" fill="#cc9474" opacity="0.56"/><ellipse cx="816.6" cy="89.2" rx="5.9" ry="5.5" fill="#cc9474" opacity="0.30"/><ellipse cx="697.6" cy="111.1" rx="2.5" ry="1.9" fill="#cc9474" opacity="0.32"/><ellipse cx="723.9" cy="72.7" rx="7.4" ry="6.4" fill="#cda092" opacity="0.38"/><ellipse cx="716.7" cy="74.5" rx="5.3" ry="5.2" fill="#cda092" opacity="0.39"/><ellipse cx="750.7" cy="176.8" rx="7.8" ry="6.9" fill="#cc9474" opacity="0.60"/><ellipse cx="738.6" cy="108.6" rx="4.5" ry="4.0" fill="#dcb194" opacity="0.26"/><ellipse cx="760.3" cy="110.9" rx="2.1" ry="1.7" fill="#d6ab9c" opacity="0.35"/><ellipse cx="819.3" cy="71.5" rx="8.4" ry="8.3" fill="#cc9474" opacity="0.29"/><ellipse cx="718.5" cy="62.8" rx="7.5" ry="6.7" fill="#d6ab9c" opacity="0.54"/><ellipse cx="803.2" cy="139.1" rx="8.6" ry="5.7" fill="#c38e7e" opacity="0.57"/><ellipse cx="762.7" cy="142.1" rx="2.6" ry="2.4" fill="#dcb194" opacity="0.31"/><ellipse cx="809.8" cy="90.3" rx="2.1" ry="1.9" fill="#dcb194" opacity="0.28"/><ellipse cx="804.2" cy="66.0" rx="8.0" ry="4.9" fill="#c38e7e" opacity="0.60"/><ellipse cx="740.6" cy="167.9" rx="6.4" ry="5.1" fill="#dcb194" opacity="0.33"/><ellipse cx="695.9" cy="77.4" rx="2.4" ry="2.3" fill="#cc9474" opacity="0.47"/><ellipse cx="757.0" cy="82.7" rx="5.1" ry="3.4" fill="#cda092" opacity="0.37"/><ellipse cx="682.6" cy="88.1" rx="2.1" ry="1.7" fill="#cda092" opacity="0.59"/><ellipse cx="754.6" cy="87.5" rx="5.1" ry="4.8" fill="#cda092" opacity="0.40"/><ellipse cx="751.8" cy="158.2" rx="4.8" ry="3.4" fill="#e4c0a2" opacity="0.33"/><ellipse cx="713.3" cy="81.8" rx="8.2" ry="7.0" fill="#cda092" opacity="0.39"/><ellipse cx="730.4" cy="64.5" rx="2.9" ry="2.5" fill="#dcb194" opacity="0.56"/><ellipse cx="742.5" cy="64.6" rx="6.7" ry="6.3" fill="#c38e7e" opacity="0.48"/><ellipse cx="720.9" cy="87.1" rx="4.1" ry="2.7" fill="#c38e7e" opacity="0.34"/><ellipse cx="680.5" cy="101.7" rx="4.3" ry="3.1" fill="#e4c0a2" opacity="0.26"/><ellipse cx="807.9" cy="84.1" rx="3.3" ry="2.5" fill="#d6ab9c" opacity="0.42"/><ellipse cx="752.9" cy="82.1" rx="5.5" ry="3.5" fill="#dcb194" opacity="0.54"/><ellipse cx="700.9" cy="128.4" rx="4.8" ry="3.4" fill="#d6ab9c" opacity="0.33"/><ellipse cx="764.9" cy="121.5" rx="7.3" ry="6.9" fill="#cda092" opacity="0.52"/><ellipse cx="766.5" cy="149.7" rx="7.0" ry="4.6" fill="#c38e7e" opacity="0.50"/><ellipse cx="773.3" cy="63.3" rx="7.8" ry="6.7" fill="#e4c0a2" opacity="0.51"/><ellipse cx="797.8" cy="74.7" rx="5.7" ry="4.7" fill="#e4c0a2" opacity="0.53"/><ellipse cx="682.3" cy="140.4" rx="7.6" ry="6.6" fill="#cda092" opacity="0.49"/><ellipse cx="713.3" cy="61.7" rx="2.9" ry="2.9" fill="#d6ab9c" opacity="0.38"/><ellipse cx="745.5" cy="64.1" rx="2.1" ry="1.9" fill="#e4c0a2" opacity="0.42"/><ellipse cx="680.5" cy="153.7" rx="7.2" ry="6.9" fill="#e4c0a2" opacity="0.28"/><ellipse cx="756.3" cy="147.5" rx="5.3" ry="5.0" fill="#dcb194" opacity="0.33"/><ellipse cx="789.7" cy="85.7" rx="6.5" ry="5.2" fill="#c38e7e" opacity="0.38"/><ellipse cx="749.5" cy="140.0" rx="7.4" ry="6.3" fill="#e4c0a2" opacity="0.32"/><ellipse cx="767.0" cy="97.8" rx="6.6" ry="4.7" fill="#cda092" opacity="0.45"/><ellipse cx="681.8" cy="65.3" rx="3.9" ry="2.5" fill="#cda092" opacity="0.33"/><circle cx="742" cy="113" r="3" fill="#e9d2bd" opacity="0.8"/><circle cx="745" cy="117" r="2.5" fill="#e9d2bd" opacity="0.8"/><circle cx="739" cy="122" r="2" fill="#e9d2bd" opacity="0.8"/><circle cx="752" cy="124" r="2" fill="#e9d2bd" opacity="0.8"/><path d="M681,100 Q700,100 716,80 Q735,70 757,59" fill="none" stroke="#d8b592" stroke-width="3" opacity="0.5"/></g></g>
<g clip-path="url(#cc2)"><rect x="930" y="-20" width="265" height="280" fill="url(#bg2)"/><path d="M930,56 C960,40 990,26 1020,24 C1050,21 1090,21 1116,30 C1140,36 1170,46 1195,66 L1200,-10 L930,-10 Z" fill="#e3e5e3"/><path d="M930,57 C960,41 990,27 1020,25 C1050,22 1090,22 1116,31 C1140,37 1170,47 1195,67" fill="none" stroke="#d2d3d3" stroke-width="1.6" opacity="0.7"/><path d="M990,10 C1030,5 1080,2 1110,4 C1135,8 1150,18 1165,28" fill="none" stroke="#f3f4f4" stroke-width="3" opacity="0.8"/><rect x="995" y="-5" width="130" height="7" fill="#b5b9b8" opacity="0.5"/><ellipse cx="1057" cy="167" rx="60" ry="5" fill="#e6e2df" opacity="0.8"/></g>
<path d="M1009.7,80.4 C1012.2,79.1 1015.9,80.7 1018.0,80.8 C1020.1,80.8 1024.2,80.9 1026.3,80.9 C1028.4,81.0 1032.5,81.4 1034.6,81.4 C1036.7,81.4 1040.8,80.8 1042.9,80.8 C1045.0,80.8 1049.1,81.6 1051.2,81.4 C1053.3,81.1 1057.4,78.7 1059.5,78.5 C1061.6,78.3 1065.7,79.5 1067.8,79.9 C1069.9,80.3 1074.0,81.3 1076.1,81.4 C1078.2,81.5 1082.3,80.5 1084.4,80.5 C1086.5,80.5 1090.6,81.5 1092.7,81.3 C1094.8,81.1 1098.9,78.9 1101.0,78.8 C1103.1,78.6 1108.1,78.5 1109.3,79.9 C1110.5,81.3 1110.5,87.2 1110.9,89.7 C1111.4,92.1 1112.6,96.9 1113.0,99.3 C1113.4,101.8 1114.0,106.6 1114.1,109.0 C1114.1,111.4 1113.3,116.2 1113.3,118.7 C1113.2,121.1 1113.7,125.9 1113.8,128.3 C1113.8,130.8 1113.4,135.6 1113.4,138.0 C1113.4,140.4 1114.0,145.3 1113.9,147.7 C1113.7,150.1 1112.8,155.1 1112.2,157.3 C1111.6,159.6 1110.8,164.2 1109.3,165.5 C1107.8,166.7 1102.4,167.4 1100.1,167.4 C1097.8,167.4 1093.2,165.5 1090.9,165.4 C1088.6,165.3 1084.0,166.9 1081.7,166.9 C1079.3,166.8 1074.7,165.6 1072.4,165.4 C1070.1,165.1 1065.5,164.7 1063.2,165.0 C1060.9,165.3 1056.3,167.5 1054.0,167.6 C1051.7,167.7 1047.1,165.9 1044.8,165.6 C1042.5,165.4 1037.9,165.4 1035.6,165.6 C1033.3,165.9 1028.7,167.7 1026.3,167.9 C1024.0,168.2 1019.4,167.9 1017.1,167.6 C1014.8,167.4 1010.2,165.8 1007.9,165.9 C1005.6,165.9 999.9,169.0 998.7,167.9 C997.5,166.7 998.7,159.2 998.6,156.7 C998.5,154.1 998.3,149.7 998.0,147.3 C997.7,145.0 996.2,140.3 996.2,138.0 C996.1,135.7 997.5,131.0 997.6,128.7 C997.7,126.3 997.0,121.7 997.0,119.3 C997.1,117.0 997.8,112.3 998.0,110.0 C998.2,107.7 998.5,103.0 998.5,100.7 C998.5,98.3 996.6,93.9 998.0,91.3 C999.4,88.8 1007.2,81.7 1009.7,80.4Z" fill="url(#m2)"/><g clip-path="url(#mc2)"><g filter="url(#bl2)"><ellipse cx="1056.8" cy="141.8" rx="2.8" ry="2.2" fill="#9c4f24" opacity="0.35"/><ellipse cx="1105.2" cy="95.9" rx="5.9" ry="3.6" fill="#9c4f24" opacity="0.48"/><ellipse cx="1096.4" cy="165.1" rx="3.5" ry="2.7" fill="#d79a5a" opacity="0.67"/><ellipse cx="1109.7" cy="84.7" rx="1.9" ry="1.5" fill="#b36634" opacity="0.68"/><ellipse cx="1013.9" cy="151.8" rx="3.8" ry="3.3" fill="#c98045" opacity="0.39"/><ellipse cx="1105.7" cy="121.8" rx="1.6" ry="1.6" fill="#c98045" opacity="0.57"/><ellipse cx="1046.7" cy="143.4" rx="3.4" ry="2.5" fill="#9c4f24" opacity="0.64"/><ellipse cx="998.2" cy="145.6" rx="5.3" ry="5.1" fill="#c98045" opacity="0.38"/><ellipse cx="999.4" cy="144.6" rx="2.6" ry="2.0" fill="#c98045" opacity="0.70"/><ellipse cx="1068.7" cy="110.5" rx="3.4" ry="3.2" fill="#d79a5a" opacity="0.41"/><ellipse cx="1004.2" cy="137.6" rx="4.4" ry="3.0" fill="#a85a2a" opacity="0.41"/><ellipse cx="1059.3" cy="95.1" rx="3.2" ry="3.0" fill="#9c4f24" opacity="0.62"/><ellipse cx="1073.7" cy="160.2" rx="5.7" ry="3.9" fill="#c27a48" opacity="0.33"/><ellipse cx="1110.0" cy="115.0" rx="4.3" ry="3.7" fill="#a85a2a" opacity="0.41"/><ellipse cx="1003.9" cy="161.4" rx="2.1" ry="1.6" fill="#9c4f24" opacity="0.41"/><ellipse cx="1028.7" cy="144.5" rx="4.4" ry="3.8" fill="#9c4f24" opacity="0.42"/><ellipse cx="1064.9" cy="113.5" rx="2.3" ry="1.4" fill="#a85a2a" opacity="0.50"/><ellipse cx="1095.4" cy="127.5" rx="3.5" ry="3.5" fill="#d79a5a" opacity="0.48"/><ellipse cx="1014.8" cy="95.3" rx="1.9" ry="1.6" fill="#d79a5a" opacity="0.43"/><ellipse cx="1042.2" cy="150.8" rx="2.4" ry="2.2" fill="#c98045" opacity="0.47"/><ellipse cx="1047.7" cy="125.2" rx="3.2" ry="2.9" fill="#d79a5a" opacity="0.50"/><ellipse cx="1066.9" cy="110.4" rx="4.6" ry="3.9" fill="#c27a48" opacity="0.65"/><ellipse cx="1023.9" cy="102.4" rx="2.6" ry="2.2" fill="#9c4f24" opacity="0.47"/><ellipse cx="1035.4" cy="151.3" rx="5.9" ry="3.6" fill="#a85a2a" opacity="0.58"/><ellipse cx="1105.5" cy="120.6" rx="4.1" ry="2.6" fill="#c98045" opacity="0.67"/><ellipse cx="1109.4" cy="125.5" rx="3.6" ry="2.5" fill="#9c4f24" opacity="0.34"/><ellipse cx="1016.5" cy="125.0" rx="4.6" ry="4.0" fill="#b36634" opacity="0.64"/><ellipse cx="1105.4" cy="85.7" rx="5.0" ry="4.6" fill="#c98045" opacity="0.39"/><ellipse cx="1108.4" cy="136.1" rx="2.9" ry="2.4" fill="#a85a2a" opacity="0.51"/><ellipse cx="1050.5" cy="146.7" rx="1.9" ry="1.6" fill="#d79a5a" opacity="0.53"/><ellipse cx="1044.6" cy="98.1" rx="4.2" ry="3.4" fill="#c98045" opacity="0.70"/><ellipse cx="1031.4" cy="106.5" rx="5.3" ry="4.2" fill="#a85a2a" opacity="0.39"/><ellipse cx="1027.6" cy="164.5" rx="4.7" ry="2.9" fill="#d79a5a" opacity="0.38"/><ellipse cx="1104.2" cy="136.2" rx="1.9" ry="1.6" fill="#a85a2a" opacity="0.67"/><ellipse cx="1025.2" cy="81.1" rx="3.0" ry="2.3" fill="#9c4f24" opacity="0.46"/><ellipse cx="998.8" cy="104.3" rx="5.3" ry="3.6" fill="#c98045" opacity="0.69"/><ellipse cx="1035.4" cy="151.8" rx="2.5" ry="1.8" fill="#a85a2a" opacity="0.66"/><ellipse cx="1011.1" cy="134.1" rx="4.2" ry="3.4" fill="#a85a2a" opacity="0.66"/><ellipse cx="1004.8" cy="131.5" rx="5.6" ry="3.9" fill="#c98045" opacity="0.69"/><ellipse cx="1015.0" cy="82.7" rx="1.8" ry="1.4" fill="#9c4f24" opacity="0.58"/><ellipse cx="1035.7" cy="88.2" rx="1.9" ry="1.4" fill="#a85a2a" opacity="0.37"/><ellipse cx="1110.3" cy="145.2" rx="1.6" ry="1.5" fill="#b36634" opacity="0.64"/><ellipse cx="1116.2" cy="117.8" rx="2.0" ry="1.4" fill="#c98045" opacity="0.44"/><ellipse cx="1112.7" cy="89.1" rx="5.8" ry="4.4" fill="#a85a2a" opacity="0.61"/><ellipse cx="1035.0" cy="150.4" rx="1.9" ry="1.5" fill="#b36634" opacity="0.45"/><ellipse cx="1108.3" cy="95.4" rx="3.1" ry="1.9" fill="#9c4f24" opacity="0.46"/><ellipse cx="1095.4" cy="147.0" rx="1.7" ry="1.3" fill="#c98045" opacity="0.62"/><ellipse cx="1005.4" cy="95.5" rx="1.8" ry="1.3" fill="#c27a48" opacity="0.41"/><ellipse cx="1112.9" cy="133.5" rx="2.7" ry="2.3" fill="#b36634" opacity="0.67"/><ellipse cx="1033.7" cy="142.9" rx="4.2" ry="4.1" fill="#b36634" opacity="0.33"/><ellipse cx="1097.1" cy="87.7" rx="4.7" ry="4.6" fill="#9c4f24" opacity="0.45"/><ellipse cx="1028.1" cy="116.7" rx="3.7" ry="2.5" fill="#9c4f24" opacity="0.62"/><ellipse cx="1086.6" cy="152.0" rx="5.0" ry="3.5" fill="#c27a48" opacity="0.64"/><ellipse cx="1053.3" cy="148.5" rx="4.2" ry="2.8" fill="#c27a48" opacity="0.60"/><ellipse cx="1027.7" cy="83.8" rx="1.7" ry="1.4" fill="#c27a48" opacity="0.36"/><ellipse cx="1049.2" cy="87.5" rx="1.8" ry="1.2" fill="#c27a48" opacity="0.34"/><ellipse cx="1057.8" cy="141.9" rx="3.5" ry="2.3" fill="#a85a2a" opacity="0.48"/><ellipse cx="1105.0" cy="99.1" rx="3.9" ry="3.5" fill="#b36634" opacity="0.61"/><ellipse cx="1033.3" cy="103.1" rx="2.7" ry="2.4" fill="#d79a5a" opacity="0.38"/><ellipse cx="1027.7" cy="100.1" rx="2.2" ry="1.5" fill="#c27a48" opacity="0.33"/><ellipse cx="1028.2" cy="100.1" rx="3.9" ry="3.6" fill="#b36634" opacity="0.56"/><ellipse cx="1116.9" cy="87.2" rx="3.6" ry="3.4" fill="#a85a2a" opacity="0.67"/><ellipse cx="1002.8" cy="104.4" rx="2.0" ry="1.7" fill="#a85a2a" opacity="0.63"/><ellipse cx="1021.3" cy="84.8" rx="3.8" ry="3.0" fill="#a85a2a" opacity="0.40"/><ellipse cx="1091.3" cy="163.1" rx="2.0" ry="1.7" fill="#c27a48" opacity="0.44"/><ellipse cx="1002.5" cy="108.6" rx="1.7" ry="1.0" fill="#d79a5a" opacity="0.59"/><ellipse cx="1107.7" cy="151.3" rx="5.2" ry="4.5" fill="#9c4f24" opacity="0.37"/><ellipse cx="1035.5" cy="96.3" rx="5.1" ry="4.0" fill="#c27a48" opacity="0.46"/><ellipse cx="1093.5" cy="137.8" rx="2.2" ry="1.4" fill="#c27a48" opacity="0.37"/><ellipse cx="1081.4" cy="114.9" rx="2.8" ry="2.1" fill="#d79a5a" opacity="0.32"/><ellipse cx="1087.4" cy="157.5" rx="3.4" ry="3.2" fill="#c98045" opacity="0.70"/><ellipse cx="1041.7" cy="95.7" rx="4.8" ry="4.7" fill="#a85a2a" opacity="0.47"/><ellipse cx="1016.8" cy="88.2" rx="1.9" ry="1.8" fill="#c27a48" opacity="0.48"/><ellipse cx="1017.5" cy="79.3" rx="4.0" ry="3.7" fill="#b36634" opacity="0.46"/><ellipse cx="1066.7" cy="161.5" rx="4.8" ry="3.2" fill="#a85a2a" opacity="0.41"/><ellipse cx="1060.5" cy="161.3" rx="2.0" ry="1.8" fill="#9c4f24" opacity="0.62"/><ellipse cx="1094.6" cy="105.1" rx="5.3" ry="5.2" fill="#c98045" opacity="0.49"/><ellipse cx="1004.4" cy="161.4" rx="3.2" ry="2.8" fill="#b36634" opacity="0.63"/><ellipse cx="1017.2" cy="148.7" rx="2.5" ry="2.1" fill="#9c4f24" opacity="0.38"/><ellipse cx="1054.8" cy="128.9" rx="1.7" ry="1.1" fill="#c27a48" opacity="0.44"/><ellipse cx="1015.9" cy="165.4" rx="5.2" ry="3.2" fill="#a85a2a" opacity="0.52"/><ellipse cx="1088.9" cy="81.4" rx="5.3" ry="4.0" fill="#c98045" opacity="0.48"/><ellipse cx="1099.9" cy="148.0" rx="4.4" ry="3.7" fill="#d79a5a" opacity="0.47"/><ellipse cx="1077.1" cy="118.2" rx="3.5" ry="2.1" fill="#c98045" opacity="0.69"/><ellipse cx="1053.8" cy="118.2" rx="4.3" ry="4.0" fill="#9c4f24" opacity="0.62"/><ellipse cx="1046.0" cy="84.0" rx="3.1" ry="2.0" fill="#d79a5a" opacity="0.48"/><ellipse cx="1059.2" cy="81.7" rx="4.4" ry="4.2" fill="#c98045" opacity="0.43"/><ellipse cx="1084.4" cy="85.2" rx="4.9" ry="4.2" fill="#9c4f24" opacity="0.61"/><ellipse cx="1001.1" cy="84.0" rx="4.3" ry="3.9" fill="#b36634" opacity="0.38"/><ellipse cx="1115.8" cy="122.3" rx="5.8" ry="5.1" fill="#a85a2a" opacity="0.59"/><ellipse cx="1024.5" cy="153.0" rx="4.2" ry="2.8" fill="#d79a5a" opacity="0.66"/><ellipse cx="1031.0" cy="151.4" rx="2.1" ry="2.1" fill="#c27a48" opacity="0.49"/><ellipse cx="1069.0" cy="133.4" rx="2.6" ry="1.6" fill="#d79a5a" opacity="0.37"/><ellipse cx="1017.3" cy="162.3" rx="4.6" ry="3.0" fill="#9c4f24" opacity="0.61"/><ellipse cx="1011.8" cy="125.8" rx="4.4" ry="4.3" fill="#d79a5a" opacity="0.48"/><ellipse cx="1060.6" cy="140.0" rx="5.5" ry="5.5" fill="#d79a5a" opacity="0.55"/><ellipse cx="1045.3" cy="149.8" rx="2.7" ry="2.2" fill="#d79a5a" opacity="0.44"/><ellipse cx="1089.8" cy="117.8" rx="2.3" ry="2.3" fill="#b36634" opacity="0.42"/><ellipse cx="1059.9" cy="105.9" rx="5.8" ry="5.7" fill="#c27a48" opacity="0.66"/><ellipse cx="1086.0" cy="145.2" rx="2.5" ry="2.1" fill="#d79a5a" opacity="0.47"/><ellipse cx="1059.5" cy="158.6" rx="2.1" ry="1.8" fill="#a85a2a" opacity="0.32"/><ellipse cx="1004.5" cy="129.0" rx="2.9" ry="2.1" fill="#c27a48" opacity="0.39"/><ellipse cx="1068.0" cy="131.0" rx="2.4" ry="2.3" fill="#c27a48" opacity="0.36"/><ellipse cx="999.7" cy="150.1" rx="4.7" ry="3.0" fill="#9c4f24" opacity="0.56"/><ellipse cx="1102.6" cy="148.4" rx="3.3" ry="3.3" fill="#d79a5a" opacity="0.32"/><ellipse cx="1096.5" cy="158.3" rx="4.2" ry="3.2" fill="#c27a48" opacity="0.67"/><ellipse cx="1086.0" cy="100.4" rx="5.6" ry="3.5" fill="#c98045" opacity="0.31"/><ellipse cx="1020.3" cy="92.3" rx="5.6" ry="3.4" fill="#c98045" opacity="0.52"/><ellipse cx="1110.9" cy="90.8" rx="2.4" ry="2.1" fill="#c27a48" opacity="0.56"/><ellipse cx="1047.8" cy="133.2" rx="3.8" ry="2.7" fill="#c98045" opacity="0.32"/><ellipse cx="1104.7" cy="148.5" rx="4.7" ry="3.5" fill="#c98045" opacity="0.47"/><ellipse cx="1107.5" cy="85.2" rx="4.4" ry="3.1" fill="#a85a2a" opacity="0.34"/><ellipse cx="1025.9" cy="81.5" rx="3.0" ry="2.9" fill="#b36634" opacity="0.68"/><ellipse cx="1029.6" cy="82.7" rx="4.4" ry="3.4" fill="#b36634" opacity="0.62"/><ellipse cx="1060.8" cy="101.9" rx="4.4" ry="2.8" fill="#a85a2a" opacity="0.50"/><ellipse cx="1018.4" cy="159.4" rx="5.3" ry="5.2" fill="#a85a2a" opacity="0.60"/><ellipse cx="1037.2" cy="157.2" rx="3.0" ry="2.2" fill="#a85a2a" opacity="0.64"/><ellipse cx="1108.6" cy="166.3" rx="5.3" ry="4.2" fill="#c27a48" opacity="0.64"/><ellipse cx="1081.7" cy="155.2" rx="3.5" ry="2.4" fill="#b36634" opacity="0.65"/><ellipse cx="1092.7" cy="113.2" rx="4.1" ry="4.0" fill="#c27a48" opacity="0.36"/><ellipse cx="1001.2" cy="87.6" rx="5.7" ry="5.6" fill="#d79a5a" opacity="0.58"/><ellipse cx="1001.7" cy="90.5" rx="4.4" ry="3.9" fill="#c98045" opacity="0.59"/><ellipse cx="1005.9" cy="131.1" rx="3.1" ry="3.0" fill="#c27a48" opacity="0.33"/><ellipse cx="1102.1" cy="160.3" rx="5.7" ry="4.0" fill="#c98045" opacity="0.38"/><ellipse cx="1002.1" cy="163.4" rx="5.6" ry="3.6" fill="#b36634" opacity="0.60"/><ellipse cx="1073.9" cy="120.9" rx="2.1" ry="1.4" fill="#b36634" opacity="0.43"/><ellipse cx="1048.9" cy="79.9" rx="2.7" ry="1.6" fill="#d79a5a" opacity="0.60"/><ellipse cx="1107.2" cy="147.2" rx="4.2" ry="4.0" fill="#9c4f24" opacity="0.55"/><ellipse cx="1001.7" cy="115.2" rx="3.5" ry="2.6" fill="#c98045" opacity="0.58"/><ellipse cx="1062.5" cy="97.5" rx="5.4" ry="4.5" fill="#c98045" opacity="0.41"/><ellipse cx="1050.3" cy="125.1" rx="2.8" ry="1.7" fill="#c98045" opacity="0.50"/><ellipse cx="1057.0" cy="149.7" rx="2.3" ry="2.0" fill="#9c4f24" opacity="0.68"/><ellipse cx="1059.8" cy="130.0" rx="2.2" ry="2.2" fill="#a85a2a" opacity="0.39"/><ellipse cx="1017.9" cy="162.5" rx="5.0" ry="4.5" fill="#9c4f24" opacity="0.58"/><ellipse cx="1092.4" cy="134.5" rx="3.1" ry="3.0" fill="#9c4f24" opacity="0.66"/><ellipse cx="1087.4" cy="116.0" rx="4.4" ry="3.0" fill="#d79a5a" opacity="0.41"/><ellipse cx="1106.1" cy="123.1" rx="3.2" ry="2.2" fill="#b36634" opacity="0.48"/><ellipse cx="1061.8" cy="145.9" rx="4.9" ry="3.0" fill="#b36634" opacity="0.53"/><ellipse cx="1060.6" cy="156.1" rx="3.5" ry="3.2" fill="#c27a48" opacity="0.37"/><ellipse cx="1050.7" cy="147.6" rx="4.1" ry="3.0" fill="#a85a2a" opacity="0.56"/><ellipse cx="1034" cy="109" rx="4" ry="3" fill="#8a3318"/><ellipse cx="1062" cy="118" rx="20" ry="12" fill="#c9936c" opacity="0.3"/><circle cx="1081.2" cy="124.2" r="0.7" fill="#f0b878" opacity="0.60"/><circle cx="1114.0" cy="143.4" r="1.0" fill="#8a4020" opacity="0.41"/><circle cx="1037.7" cy="95.8" r="1.3" fill="#e9a663" opacity="0.41"/><circle cx="1076.6" cy="96.4" r="0.6" fill="#f0b878" opacity="0.63"/><circle cx="1085.5" cy="117.7" r="0.7" fill="#e9a663" opacity="0.45"/><circle cx="1103.5" cy="120.3" r="0.5" fill="#7a3518" opacity="0.59"/><circle cx="1058.1" cy="135.3" r="0.9" fill="#f0b878" opacity="0.44"/><circle cx="1086.1" cy="79.5" r="0.7" fill="#7a3518" opacity="0.60"/><circle cx="1068.3" cy="136.6" r="1.2" fill="#f0b878" opacity="0.59"/><circle cx="1074.7" cy="119.4" r="0.8" fill="#e9a663" opacity="0.66"/><circle cx="1027.6" cy="114.6" r="1.1" fill="#f0b878" opacity="0.44"/><circle cx="1049.0" cy="119.5" r="1.0" fill="#7a3518" opacity="0.53"/><circle cx="1077.0" cy="156.7" r="1.2" fill="#8a4020" opacity="0.62"/><circle cx="1044.9" cy="122.6" r="1.3" fill="#e9a663" opacity="0.44"/><circle cx="1024.7" cy="142.7" r="1.3" fill="#f0b878" opacity="0.53"/><circle cx="1010.9" cy="130.1" r="0.9" fill="#7a3518" opacity="0.53"/><circle cx="1074.4" cy="152.8" r="0.9" fill="#7a3518" opacity="0.61"/><circle cx="1052.9" cy="167.1" r="0.6" fill="#e9a663" opacity="0.61"/><circle cx="1071.5" cy="135.7" r="0.7" fill="#7a3518" opacity="0.49"/><circle cx="1000.6" cy="116.3" r="0.8" fill="#8a4020" opacity="0.55"/><circle cx="1011.9" cy="106.0" r="0.8" fill="#f0b878" opacity="0.70"/><circle cx="1112.4" cy="120.1" r="0.6" fill="#e9a663" opacity="0.63"/><circle cx="1073.8" cy="120.8" r="0.9" fill="#f0b878" opacity="0.64"/><circle cx="1016.3" cy="138.3" r="1.2" fill="#7a3518" opacity="0.51"/><circle cx="1033.7" cy="127.8" r="0.6" fill="#7a3518" opacity="0.47"/><circle cx="1099.4" cy="102.8" r="0.8" fill="#8a4020" opacity="0.69"/><circle cx="1079.1" cy="121.9" r="1.1" fill="#8a4020" opacity="0.48"/><circle cx="1076.2" cy="107.5" r="0.9" fill="#e9a663" opacity="0.58"/><circle cx="1041.8" cy="161.7" r="1.2" fill="#e9a663" opacity="0.38"/><circle cx="1065.6" cy="107.9" r="1.3" fill="#8a4020" opacity="0.57"/><circle cx="1000.8" cy="80.0" r="1.3" fill="#8a4020" opacity="0.44"/><circle cx="1011.0" cy="91.7" r="0.7" fill="#7a3518" opacity="0.47"/><circle cx="1017.0" cy="159.5" r="1.1" fill="#f0b878" opacity="0.56"/><circle cx="1080.2" cy="166.0" r="0.6" fill="#8a4020" opacity="0.42"/><circle cx="1080.7" cy="126.2" r="1.1" fill="#7a3518" opacity="0.58"/><circle cx="1012.8" cy="89.5" r="0.8" fill="#f0b878" opacity="0.52"/><circle cx="1064.7" cy="122.1" r="1.2" fill="#7a3518" opacity="0.44"/><circle cx="1018.4" cy="132.4" r="1.1" fill="#f0b878" opacity="0.64"/><circle cx="1054.2" cy="129.1" r="1.0" fill="#7a3518" opacity="0.48"/><circle cx="1048.4" cy="164.5" r="0.6" fill="#8a4020" opacity="0.57"/><circle cx="1002.4" cy="133.3" r="1.0" fill="#8a4020" opacity="0.63"/><circle cx="1010.1" cy="122.1" r="1.1" fill="#f0b878" opacity="0.36"/><circle cx="1083.7" cy="134.6" r="0.8" fill="#8a4020" opacity="0.47"/><circle cx="1090.9" cy="128.3" r="1.2" fill="#8a4020" opacity="0.50"/><circle cx="1048.8" cy="128.3" r="1.2" fill="#8a4020" opacity="0.47"/><circle cx="1057.3" cy="108.7" r="1.3" fill="#8a4020" opacity="0.69"/><circle cx="1076.2" cy="149.5" r="0.8" fill="#8a4020" opacity="0.60"/><circle cx="1014.1" cy="165.6" r="0.6" fill="#e9a663" opacity="0.49"/><circle cx="1064.4" cy="115.1" r="1.0" fill="#7a3518" opacity="0.46"/><circle cx="999.7" cy="95.9" r="1.2" fill="#e9a663" opacity="0.63"/><circle cx="1106.4" cy="133.4" r="1.0" fill="#e9a663" opacity="0.42"/><circle cx="1077.7" cy="119.8" r="1.1" fill="#e9a663" opacity="0.58"/><circle cx="1101.6" cy="116.5" r="0.6" fill="#e9a663" opacity="0.48"/><circle cx="1096.1" cy="149.0" r="0.9" fill="#8a4020" opacity="0.65"/><circle cx="1020.8" cy="82.0" r="0.5" fill="#e9a663" opacity="0.52"/><circle cx="1060.6" cy="152.4" r="1.1" fill="#7a3518" opacity="0.55"/><circle cx="1107.4" cy="118.7" r="0.5" fill="#7a3518" opacity="0.56"/><circle cx="1116.2" cy="137.7" r="0.6" fill="#7a3518" opacity="0.54"/><circle cx="1008.8" cy="121.0" r="1.2" fill="#e9a663" opacity="0.50"/><circle cx="1000.1" cy="138.6" r="1.3" fill="#e9a663" opacity="0.43"/><circle cx="1013.3" cy="121.0" r="0.7" fill="#f0b878" opacity="0.51"/><circle cx="1086.8" cy="161.1" r="0.8" fill="#f0b878" opacity="0.61"/><circle cx="1008.9" cy="134.9" r="1.1" fill="#7a3518" opacity="0.58"/><circle cx="1104.0" cy="160.3" r="0.5" fill="#e9a663" opacity="0.35"/><circle cx="1000.7" cy="136.9" r="1.2" fill="#e9a663" opacity="0.49"/><circle cx="1035.9" cy="132.4" r="1.3" fill="#7a3518" opacity="0.56"/><circle cx="1036.3" cy="163.4" r="1.1" fill="#7a3518" opacity="0.59"/><circle cx="1016.1" cy="150.0" r="0.8" fill="#f0b878" opacity="0.57"/><circle cx="1048.3" cy="113.3" r="1.1" fill="#8a4020" opacity="0.62"/><circle cx="1065.9" cy="105.0" r="0.5" fill="#8a4020" opacity="0.65"/><circle cx="1084.6" cy="80.4" r="0.6" fill="#8a4020" opacity="0.55"/><circle cx="1114.2" cy="100.9" r="0.8" fill="#7a3518" opacity="0.56"/><circle cx="1104.7" cy="150.9" r="0.7" fill="#e9a663" opacity="0.46"/><circle cx="1030.6" cy="93.0" r="1.2" fill="#e9a663" opacity="0.45"/><circle cx="1015.6" cy="158.3" r="1.3" fill="#f0b878" opacity="0.45"/><circle cx="1099.4" cy="150.8" r="1.0" fill="#7a3518" opacity="0.47"/><circle cx="1009.0" cy="128.3" r="1.1" fill="#f0b878" opacity="0.63"/><circle cx="1084.2" cy="166.4" r="0.7" fill="#e9a663" opacity="0.59"/><circle cx="1053.9" cy="97.4" r="0.7" fill="#e9a663" opacity="0.63"/><circle cx="1053.2" cy="86.8" r="1.1" fill="#e9a663" opacity="0.43"/><circle cx="1067.4" cy="158.8" r="1.2" fill="#8a4020" opacity="0.52"/><circle cx="1068.5" cy="95.8" r="0.7" fill="#f0b878" opacity="0.63"/><circle cx="1033.2" cy="130.4" r="0.8" fill="#f0b878" opacity="0.44"/><circle cx="1107.9" cy="122.9" r="1.2" fill="#8a4020" opacity="0.57"/><circle cx="1091.9" cy="92.9" r="1.0" fill="#8a4020" opacity="0.45"/><circle cx="1070.6" cy="87.4" r="0.7" fill="#7a3518" opacity="0.56"/><circle cx="1024.2" cy="161.4" r="0.7" fill="#e9a663" opacity="0.68"/><circle cx="1089.5" cy="151.9" r="1.3" fill="#8a4020" opacity="0.65"/><circle cx="1039.0" cy="167.5" r="0.8" fill="#e9a663" opacity="0.37"/><circle cx="1064.8" cy="156.5" r="0.9" fill="#e9a663" opacity="0.65"/><circle cx="1074.5" cy="161.1" r="1.1" fill="#e9a663" opacity="0.44"/><circle cx="1065.6" cy="136.0" r="1.3" fill="#7a3518" opacity="0.41"/><circle cx="1099.3" cy="112.0" r="0.7" fill="#f0b878" opacity="0.41"/><circle cx="1110.1" cy="162.8" r="0.5" fill="#e9a663" opacity="0.64"/><circle cx="1004.6" cy="149.0" r="1.1" fill="#7a3518" opacity="0.37"/><circle cx="1016.1" cy="146.2" r="1.3" fill="#8a4020" opacity="0.56"/><circle cx="1051.1" cy="137.1" r="0.9" fill="#8a4020" opacity="0.44"/><circle cx="1013.6" cy="121.8" r="0.6" fill="#f0b878" opacity="0.63"/><circle cx="1106.9" cy="158.4" r="0.9" fill="#f0b878" opacity="0.63"/><circle cx="1017.5" cy="153.1" r="0.6" fill="#8a4020" opacity="0.66"/><circle cx="1015.5" cy="118.8" r="0.6" fill="#7a3518" opacity="0.64"/><circle cx="1073.1" cy="119.3" r="0.8" fill="#f0b878" opacity="0.52"/><circle cx="1073.1" cy="91.7" r="0.7" fill="#e9a663" opacity="0.41"/><circle cx="1052.3" cy="158.1" r="0.9" fill="#f0b878" opacity="0.44"/><circle cx="1047.6" cy="92.9" r="0.7" fill="#8a4020" opacity="0.47"/><circle cx="1018.8" cy="122.7" r="0.8" fill="#7a3518" opacity="0.39"/><circle cx="1114.5" cy="84.1" r="1.2" fill="#f0b878" opacity="0.55"/><circle cx="1097.6" cy="89.6" r="1.1" fill="#8a4020" opacity="0.50"/><circle cx="1029.9" cy="100.2" r="0.7" fill="#7a3518" opacity="0.45"/><circle cx="1104.8" cy="84.1" r="1.1" fill="#8a4020" opacity="0.40"/></g></g>
<rect x="725.5" y="222.1" width="55.3" height="3" fill="#000"/>
<text x="723.00" y="216.30" font-size="17.0" fill="#000" textLength="56.52" lengthAdjust="spacingAndGlyphs">10 mm</text>
<rect x="1036.3" y="221.0" width="55.0" height="3" fill="#000"/>
<text x="1033.60" y="216.30" font-size="17.0" fill="#000" textLength="56.42" lengthAdjust="spacingAndGlyphs">10 mm</text>
<text x="699.20" y="273.90" font-size="23.2" fill="#000" textLength="103.53" lengthAdjust="spacingAndGlyphs">Lean Pork</text>
<text x="1009.20" y="273.70" font-size="23.2" fill="#000" textLength="106.96" lengthAdjust="spacingAndGlyphs">Hybrid CM</text>
<rect x="97.1" y="331.8" width="233.9" height="229.9" fill="#fff" stroke="#1d3461" stroke-width="2"/>
<rect x="341.4" y="332.7" width="232.2" height="228.6" fill="#fff" stroke="#1d3461" stroke-width="2"/>
<text x="108.80" y="368.70" font-size="29.3" font-weight="bold" fill="#000" textLength="203.06" lengthAdjust="spacingAndGlyphs">Nutrition Facts</text>
<text x="108.80" y="396.00" font-size="17.6" fill="#000" textLength="87.95" lengthAdjust="spacingAndGlyphs">Lean pork</text>
<text x="248.70" y="422.40" font-size="15.6" fill="#000" textLength="69.37" lengthAdjust="spacingAndGlyphs">Per 100g</text>
<rect x="108.2" y="429.3" width="209.9" height="2.4" fill="#000"/>
<text x="110.10" y="454.30" font-size="19.6" fill="#000" textLength="70.03" lengthAdjust="spacingAndGlyphs">Total fat</text>
<text x="263.50" y="454.30" font-size="19.6" fill="#000" textLength="43.18" lengthAdjust="spacingAndGlyphs">1.9 g</text>
<text x="110.10" y="486.60" font-size="19.6" fill="#000" textLength="90.12" lengthAdjust="spacingAndGlyphs">- Trans fat</text>
<text x="263.50" y="486.60" font-size="19.6" fill="#000">0 g</text>
<text x="110.10" y="518.60" font-size="19.6" fill="#000">Protein</text>
<text x="263.50" y="518.60" font-size="19.6" fill="#000">13.9 g</text>
<text x="110.10" y="550.40" font-size="19.6" fill="#000" textLength="121.77" lengthAdjust="spacingAndGlyphs">Carbohydrate</text>
<text x="262.50" y="550.40" font-size="19.6" fill="#000">6.7g</text>
<text x="353.20" y="367.60" font-size="29.3" font-weight="bold" fill="#000" textLength="201.76" lengthAdjust="spacingAndGlyphs">Nutrition Facts</text>
<text x="353.20" y="394.40" font-size="17.6" fill="#000" textLength="184.91" lengthAdjust="spacingAndGlyphs">Hybrid cultured meat</text>
<text x="492.20" y="420.90" font-size="15.6" fill="#000" textLength="68.97" lengthAdjust="spacingAndGlyphs">Per 100g</text>
<rect x="352.6" y="428.7" width="208.6" height="1.8" fill="#000"/>
<text x="354.20" y="452.60" font-size="19.6" fill="#000">Total fat</text>
<text x="506.20" y="452.60" font-size="19.6" fill="#000" textLength="43.18" lengthAdjust="spacingAndGlyphs">7.7 g</text>
<text x="354.20" y="484.60" font-size="19.6" fill="#000">- Trans fat</text>
<text x="506.20" y="484.60" font-size="19.6" fill="#000">0 g</text>
<text x="354.20" y="516.70" font-size="19.6" fill="#000">Protein</text>
<text x="505.60" y="516.70" font-size="19.6" fill="#000" textLength="55.20" lengthAdjust="spacingAndGlyphs">22.9 g</text>
<text x="354.20" y="547.30" font-size="19.6" fill="#000" textLength="120.77" lengthAdjust="spacingAndGlyphs">Carbohydrate</text>
<text x="506.20" y="547.30" font-size="19.6" fill="#000">1.4 g</text>
<path d="M743.40,445.60 L743.40,320.20 A125.40,125.40 0 0 1 868.79,443.85 Z" fill="#d9d9d9" stroke="none" stroke-width="0" stroke-linejoin="round"/><path d="M743.40,445.60 L868.79,443.85 A125.40,125.40 0 0 1 811.88,550.65 Z" fill="#808080" stroke="none" stroke-width="0" stroke-linejoin="round"/><path d="M743.40,445.60 L811.88,550.65 A125.40,125.40 0 0 1 798.96,558.02 Z" fill="#5b5b5b" stroke="none" stroke-width="0" stroke-linejoin="round"/><path d="M743.40,445.60 L798.96,558.02 A125.40,125.40 0 0 1 796.00,559.44 Z" fill="#262626" stroke="none" stroke-width="0" stroke-linejoin="round"/><path d="M743.40,445.60 L796.00,559.44 A125.40,125.40 0 0 1 657.88,353.89 Z" fill="#9a808a" stroke="none" stroke-width="0" stroke-linejoin="round"/><path d="M743.40,445.60 L657.88,353.89 A125.40,125.40 0 0 1 667.41,345.85 Z" fill="#70505b" stroke="none" stroke-width="0" stroke-linejoin="round"/><path d="M743.40,445.60 L667.41,345.85 A125.40,125.40 0 0 1 737.49,320.34 Z" fill="#a7bccb" stroke="none" stroke-width="0" stroke-linejoin="round"/><path d="M743.40,445.60 L737.49,320.34 A125.40,125.40 0 0 1 743.40,320.20 Z" fill="#6b7c9d" stroke="none" stroke-width="0" stroke-linejoin="round"/>
<path d="M1060.30,453.30 L1060.30,325.80 A127.50,127.50 0 0 1 1111.14,570.23 Z" fill="#d9d9d9" stroke="none" stroke-width="0" stroke-linejoin="round"/><path d="M1060.30,453.30 L1111.14,570.23 A127.50,127.50 0 0 1 936.43,483.50 Z" fill="#808080" stroke="none" stroke-width="0" stroke-linejoin="round"/><path d="M1060.30,453.30 L936.43,483.50 A127.50,127.50 0 0 1 934.23,472.37 Z" fill="#5b5b5b" stroke="none" stroke-width="0" stroke-linejoin="round"/><path d="M1060.30,453.30 L934.23,472.37 A127.50,127.50 0 0 1 933.16,462.86 Z" fill="#262626" stroke="none" stroke-width="0" stroke-linejoin="round"/><path d="M1060.30,453.30 L933.16,462.86 A127.50,127.50 0 0 1 989.93,346.98 Z" fill="#c9b4b9" stroke="none" stroke-width="0" stroke-linejoin="round"/><path d="M1060.30,453.30 L989.93,346.98 A127.50,127.50 0 0 1 1016.48,333.57 Z" fill="#70505b" stroke="none" stroke-width="0" stroke-linejoin="round"/><path d="M1060.30,453.30 L1016.48,333.57 A127.50,127.50 0 0 1 1053.40,325.99 Z" fill="#a7bdca" stroke="none" stroke-width="0" stroke-linejoin="round"/><path d="M1060.30,453.30 L1053.40,325.99 A127.50,127.50 0 0 1 1060.30,325.80 Z" fill="#6f82a6" stroke="none" stroke-width="0" stroke-linejoin="round"/>
<line x1="1060.3" y1="453.3" x2="1111.14" y2="570.23" stroke="#fff" stroke-width="0.6" opacity="0.8"/>
<line x1="1060.3" y1="453.3" x2="936.43" y2="483.50" stroke="#fff" stroke-width="0.6" opacity="0.8"/>
<line x1="1060.3" y1="453.3" x2="934.23" y2="472.37" stroke="#fff" stroke-width="0.6" opacity="0.8"/>
<polyline points="740.2,320.8 746.9,311.1 755.7,311.1" fill="none" stroke="#8c8c8c" stroke-width="1"/>
<polyline points="650.3,349.8 664.3,349.8" fill="none" stroke="#8c8c8c" stroke-width="1"/>
<polyline points="808.2,554.8 816,562 829.7,562" fill="none" stroke="#8c8c8c" stroke-width="1"/>
<polyline points="797.1,559.3 791.3,569.8" fill="none" stroke="#8c8c8c" stroke-width="1"/>
<polyline points="1040.4,333.6 1038.1,315" fill="none" stroke="#8c8c8c" stroke-width="1"/>
<polyline points="1058.5,327.5 1062,318 1075,318" fill="none" stroke="#8c8c8c" stroke-width="1"/>
<polyline points="986.5,333.6 998.3,333.6 1004.2,343" fill="none" stroke="#8c8c8c" stroke-width="1"/>
<polyline points="919.5,467 934.3,467" fill="none" stroke="#8c8c8c" stroke-width="1"/>
<polyline points="927.5,493.5 936.4,483.2" fill="none" stroke="#8c8c8c" stroke-width="1"/>
<text x="750.50" y="404.80" font-size="15.8" fill="#0d0d0d" textLength="95.95" lengthAdjust="spacingAndGlyphs">Palmitic acid</text>
<text x="792.20" y="481.40" font-size="15.8" fill="#0d0d0d" textLength="54.44" lengthAdjust="spacingAndGlyphs">Stearic</text>
<text x="792.20" y="502.20" font-size="15.8" fill="#0d0d0d" textLength="30.17" lengthAdjust="spacingAndGlyphs">acid</text>
<text x="654.60" y="472.40" font-size="15.8" fill="#0d0d0d" textLength="76.51" lengthAdjust="spacingAndGlyphs">Oleic acid</text>
<text x="678.80" y="358.50" font-size="15.8" fill="#0d0d0d" textLength="58.52" lengthAdjust="spacingAndGlyphs">Linoleic</text>
<text x="693.50" y="378.90" font-size="15.8" fill="#0d0d0d" textLength="31.58" lengthAdjust="spacingAndGlyphs">acid</text>
<text x="758.50" y="316.20" font-size="15.8" fill="#0d0d0d" textLength="93.81" lengthAdjust="spacingAndGlyphs">Other PUFA</text>
<text x="599.40" y="341.60" font-size="15.8" fill="#0d0d0d" textLength="43.11" lengthAdjust="spacingAndGlyphs">Other</text>
<text x="599.40" y="362.70" font-size="15.8" fill="#0d0d0d" textLength="48.36" lengthAdjust="spacingAndGlyphs">MUFA</text>
<text x="830.40" y="556.10" font-size="15.8" fill="#0d0d0d" textLength="59.67" lengthAdjust="spacingAndGlyphs">Myristic</text>
<text x="830.40" y="576.30" font-size="15.8" fill="#0d0d0d" textLength="30.07" lengthAdjust="spacingAndGlyphs">acid</text>
<text x="739.40" y="587.40" font-size="15.8" fill="#0d0d0d" textLength="81.87" lengthAdjust="spacingAndGlyphs">Other SFA</text>
<text x="1075.50" y="453.70" font-size="15.8" fill="#0d0d0d" textLength="98.25" lengthAdjust="spacingAndGlyphs">Palmitic acid</text>
<text x="974.70" y="521.50" font-size="15.8" fill="#0d0d0d" textLength="91.48" lengthAdjust="spacingAndGlyphs">Stearic acid</text>
<text x="971.10" y="417.40" font-size="15.8" fill="#0d0d0d" textLength="39.87" lengthAdjust="spacingAndGlyphs">Oleic</text>
<text x="971.10" y="437.40" font-size="15.8" fill="#0d0d0d" textLength="30.57" lengthAdjust="spacingAndGlyphs">acid</text>
<text x="983.50" y="312.10" font-size="15.8" fill="#0d0d0d" textLength="96.55" lengthAdjust="spacingAndGlyphs">Linoleic acid</text>
<text x="1075.50" y="325.40" font-size="15.8" fill="#0d0d0d" textLength="95.91" lengthAdjust="spacingAndGlyphs">Other PUFA</text>
<text x="886.80" y="338.70" font-size="15.8" fill="#0d0d0d" textLength="98.14" lengthAdjust="spacingAndGlyphs">Other MUFA</text>
<text x="880.30" y="459.60" font-size="15.8" fill="#0d0d0d" textLength="43.11" lengthAdjust="spacingAndGlyphs">Other</text>
<text x="880.30" y="480.20" font-size="15.8" fill="#0d0d0d" textLength="30.99" lengthAdjust="spacingAndGlyphs">SFA</text>
<text x="881.80" y="512.60" font-size="15.8" fill="#0d0d0d" textLength="59.87" lengthAdjust="spacingAndGlyphs">Myristic</text>
<text x="881.80" y="531.80" font-size="15.8" fill="#0d0d0d" textLength="30.57" lengthAdjust="spacingAndGlyphs">acid</text>
<g><line x1="189.60" y1="627.10" x2="189.60" y2="892.45" stroke="#000" stroke-width="2.3"/><line x1="177.00" y1="891.30" x2="368.00" y2="891.30" stroke="#000" stroke-width="2.3"/><line x1="182.10" y1="858.41" x2="189.60" y2="858.41" stroke="#000" stroke-width="2.3"/><text x="174.30" y="899.20" font-size="21" text-anchor="end">0</text><line x1="177.00" y1="825.52" x2="189.60" y2="825.52" stroke="#000" stroke-width="2.3"/><line x1="182.10" y1="792.64" x2="189.60" y2="792.64" stroke="#000" stroke-width="2.3"/><text x="174.30" y="833.42" font-size="21" text-anchor="end">250</text><line x1="177.00" y1="759.75" x2="189.60" y2="759.75" stroke="#000" stroke-width="2.3"/><line x1="182.10" y1="726.86" x2="189.60" y2="726.86" stroke="#000" stroke-width="2.3"/><text x="174.30" y="767.65" font-size="21" text-anchor="end">500</text><line x1="177.00" y1="693.98" x2="189.60" y2="693.98" stroke="#000" stroke-width="2.3"/><line x1="182.10" y1="661.09" x2="189.60" y2="661.09" stroke="#000" stroke-width="2.3"/><text x="174.30" y="701.88" font-size="21" text-anchor="end">750</text><line x1="177.00" y1="628.20" x2="189.60" y2="628.20" stroke="#000" stroke-width="2.3"/><text x="174.30" y="636.10" font-size="21" text-anchor="end">1000</text><line x1="216.50" y1="792.70" x2="216.50" y2="798.00" stroke="#000" stroke-width="2.3"/><line x1="209.50" y1="792.70" x2="223.50" y2="792.70" stroke="#000" stroke-width="2.3"/><rect x="203.00" y="797.00" width="27" height="94.30" fill="#0b0909"/><text x="217.00" y="785.60" font-size="16.5" text-anchor="middle">b</text><line x1="216.50" y1="891.30" x2="216.50" y2="903.00" stroke="#000" stroke-width="2.3"/><text x="0" y="0" font-size="21.7" text-anchor="end" transform="translate(223.70,921.60) rotate(-45)">Pork</text><line x1="257.10" y1="644.40" x2="257.10" y2="666.30" stroke="#000" stroke-width="2.3"/><line x1="250.10" y1="644.40" x2="264.10" y2="644.40" stroke="#000" stroke-width="2.3"/><rect x="244.75" y="666.45" width="24.70" height="224.85" fill="#a09fa4" stroke="#000" stroke-width="2.3"/><text x="257.60" y="637.90" font-size="16.5" text-anchor="middle">c</text><line x1="257.10" y1="891.30" x2="257.10" y2="903.00" stroke="#000" stroke-width="2.3"/><text x="0" y="0" font-size="21.7" text-anchor="end" transform="translate(264.30,921.60) rotate(-45)">Cooked pork</text><line x1="297.70" y1="863.80" x2="297.70" y2="868.40" stroke="#000" stroke-width="2.3"/><line x1="290.70" y1="863.80" x2="304.70" y2="863.80" stroke="#000" stroke-width="2.3"/><rect x="285.35" y="868.55" width="24.70" height="22.75" fill="#fff" stroke="#000" stroke-width="2.3"/><text x="298.20" y="857.80" font-size="16.5" text-anchor="middle">a</text><line x1="297.70" y1="891.30" x2="297.70" y2="903.00" stroke="#000" stroke-width="2.3"/><text x="0" y="0" font-size="21.7" text-anchor="end" transform="translate(304.90,921.60) rotate(-45)">CM</text><line x1="338.30" y1="831.20" x2="338.30" y2="840.00" stroke="#000" stroke-width="2.3"/><line x1="331.30" y1="831.20" x2="345.30" y2="831.20" stroke="#000" stroke-width="2.3"/><rect x="324.80" y="839.00" width="27" height="52.30" fill="#d4d5d5"/><text x="338.80" y="824.50" font-size="16.5" text-anchor="middle">a</text><line x1="338.30" y1="891.30" x2="338.30" y2="903.00" stroke="#000" stroke-width="2.3"/><text x="0" y="0" font-size="21.7" text-anchor="end" transform="translate(345.50,921.60) rotate(-45)">Cooked CM</text><text x="0" y="0" font-size="21" text-anchor="middle" transform="translate(119.40,759.75) rotate(-90)">Hardness (gf)</text></g>
<g><line x1="464.10" y1="628.30" x2="464.10" y2="892.55" stroke="#000" stroke-width="2.3"/><line x1="451.50" y1="891.40" x2="640.90" y2="891.40" stroke="#000" stroke-width="2.3"/><line x1="456.60" y1="858.65" x2="464.10" y2="858.65" stroke="#000" stroke-width="2.3"/><text x="448.80" y="899.30" font-size="21" text-anchor="end">0.00</text><line x1="451.50" y1="825.90" x2="464.10" y2="825.90" stroke="#000" stroke-width="2.3"/><line x1="456.60" y1="793.15" x2="464.10" y2="793.15" stroke="#000" stroke-width="2.3"/><text x="448.80" y="833.80" font-size="21" text-anchor="end">0.25</text><line x1="451.50" y1="760.40" x2="464.10" y2="760.40" stroke="#000" stroke-width="2.3"/><line x1="456.60" y1="727.65" x2="464.10" y2="727.65" stroke="#000" stroke-width="2.3"/><text x="448.80" y="768.30" font-size="21" text-anchor="end">0.50</text><line x1="451.50" y1="694.90" x2="464.10" y2="694.90" stroke="#000" stroke-width="2.3"/><line x1="456.60" y1="662.15" x2="464.10" y2="662.15" stroke="#000" stroke-width="2.3"/><text x="448.80" y="702.80" font-size="21" text-anchor="end">0.75</text><line x1="451.50" y1="629.40" x2="464.10" y2="629.40" stroke="#000" stroke-width="2.3"/><text x="448.80" y="637.30" font-size="21" text-anchor="end">1.00</text><line x1="490.50" y1="719.80" x2="490.50" y2="729.30" stroke="#000" stroke-width="2.3"/><line x1="483.50" y1="719.80" x2="497.50" y2="719.80" stroke="#000" stroke-width="2.3"/><rect x="477.00" y="728.30" width="27" height="163.10" fill="#0b0909"/><text x="491.00" y="712.00" font-size="16.5" text-anchor="middle">a</text><line x1="490.50" y1="891.40" x2="490.50" y2="903.10" stroke="#000" stroke-width="2.3"/><text x="0" y="0" font-size="21.7" text-anchor="end" transform="translate(497.70,921.70) rotate(-45)">Pork</text><line x1="530.80" y1="657.00" x2="530.80" y2="679.40" stroke="#000" stroke-width="2.3"/><line x1="523.80" y1="657.00" x2="537.80" y2="657.00" stroke="#000" stroke-width="2.3"/><rect x="518.45" y="679.55" width="24.70" height="211.85" fill="#a09fa4" stroke="#000" stroke-width="2.3"/><text x="531.30" y="650.00" font-size="16.5" text-anchor="middle">b</text><line x1="530.80" y1="891.40" x2="530.80" y2="903.10" stroke="#000" stroke-width="2.3"/><text x="0" y="0" font-size="21.7" text-anchor="end" transform="translate(538.00,921.70) rotate(-45)">Cooked pork</text><line x1="571.10" y1="642.20" x2="571.10" y2="660.90" stroke="#000" stroke-width="2.3"/><line x1="564.10" y1="642.20" x2="578.10" y2="642.20" stroke="#000" stroke-width="2.3"/><rect x="558.75" y="661.05" width="24.70" height="230.35" fill="#fff" stroke="#000" stroke-width="2.3"/><text x="571.60" y="635.00" font-size="16.5" text-anchor="middle">b</text><line x1="571.10" y1="891.40" x2="571.10" y2="903.10" stroke="#000" stroke-width="2.3"/><text x="0" y="0" font-size="21.7" text-anchor="end" transform="translate(578.30,921.70) rotate(-45)">CM</text><line x1="611.40" y1="647.60" x2="611.40" y2="653.20" stroke="#000" stroke-width="2.3"/><line x1="604.40" y1="647.60" x2="618.40" y2="647.60" stroke="#000" stroke-width="2.3"/><rect x="597.90" y="652.20" width="27" height="239.20" fill="#d4d5d5"/><text x="611.90" y="640.80" font-size="16.5" text-anchor="middle">b</text><line x1="611.40" y1="891.40" x2="611.40" y2="903.10" stroke="#000" stroke-width="2.3"/><text x="0" y="0" font-size="21.7" text-anchor="end" transform="translate(618.60,921.70) rotate(-45)">Cooked CM</text><text x="0" y="0" font-size="21" text-anchor="middle" transform="translate(394.70,760.40) rotate(-90)">Springiness</text></g>
<g><line x1="740.00" y1="632.30" x2="740.00" y2="892.05" stroke="#000" stroke-width="2.3"/><line x1="727.40" y1="890.90" x2="914.50" y2="890.90" stroke="#000" stroke-width="2.3"/><line x1="732.50" y1="858.71" x2="740.00" y2="858.71" stroke="#000" stroke-width="2.3"/><text x="724.70" y="898.80" font-size="21" text-anchor="end">0.00</text><line x1="727.40" y1="826.52" x2="740.00" y2="826.52" stroke="#000" stroke-width="2.3"/><line x1="732.50" y1="794.34" x2="740.00" y2="794.34" stroke="#000" stroke-width="2.3"/><text x="724.70" y="834.42" font-size="21" text-anchor="end">0.25</text><line x1="727.40" y1="762.15" x2="740.00" y2="762.15" stroke="#000" stroke-width="2.3"/><line x1="732.50" y1="729.96" x2="740.00" y2="729.96" stroke="#000" stroke-width="2.3"/><text x="724.70" y="770.05" font-size="21" text-anchor="end">0.50</text><line x1="727.40" y1="697.77" x2="740.00" y2="697.77" stroke="#000" stroke-width="2.3"/><line x1="732.50" y1="665.59" x2="740.00" y2="665.59" stroke="#000" stroke-width="2.3"/><text x="724.70" y="705.67" font-size="21" text-anchor="end">0.75</text><line x1="727.40" y1="633.40" x2="740.00" y2="633.40" stroke="#000" stroke-width="2.3"/><text x="724.70" y="641.30" font-size="21" text-anchor="end">1.00</text><line x1="766.50" y1="749.70" x2="766.50" y2="755.00" stroke="#000" stroke-width="2.3"/><line x1="759.50" y1="749.70" x2="773.50" y2="749.70" stroke="#000" stroke-width="2.3"/><rect x="753.00" y="754.00" width="27" height="136.90" fill="#0b0909"/><text x="767.00" y="743.20" font-size="16.5" text-anchor="middle">a</text><line x1="766.50" y1="890.90" x2="766.50" y2="902.60" stroke="#000" stroke-width="2.3"/><text x="0" y="0" font-size="21.7" text-anchor="end" transform="translate(773.70,921.20) rotate(-45)">Pork</text><line x1="806.20" y1="690.70" x2="806.20" y2="710.80" stroke="#000" stroke-width="2.3"/><line x1="799.20" y1="690.70" x2="813.20" y2="690.70" stroke="#000" stroke-width="2.3"/><rect x="793.85" y="710.95" width="24.70" height="179.95" fill="#a09fa4" stroke="#000" stroke-width="2.3"/><text x="806.70" y="684.70" font-size="16.5" text-anchor="middle">b</text><line x1="806.20" y1="890.90" x2="806.20" y2="902.60" stroke="#000" stroke-width="2.3"/><text x="0" y="0" font-size="21.7" text-anchor="end" transform="translate(813.40,921.20) rotate(-45)">Cooked pork</text><line x1="845.90" y1="702.70" x2="845.90" y2="708.00" stroke="#000" stroke-width="2.3"/><line x1="838.90" y1="702.70" x2="852.90" y2="702.70" stroke="#000" stroke-width="2.3"/><rect x="833.55" y="708.15" width="24.70" height="182.75" fill="#fff" stroke="#000" stroke-width="2.3"/><text x="846.40" y="695.50" font-size="16.5" text-anchor="middle">b</text><line x1="845.90" y1="890.90" x2="845.90" y2="902.60" stroke="#000" stroke-width="2.3"/><text x="0" y="0" font-size="21.7" text-anchor="end" transform="translate(853.10,921.20) rotate(-45)">CM</text><line x1="885.60" y1="679.90" x2="885.60" y2="688.60" stroke="#000" stroke-width="2.3"/><line x1="878.60" y1="679.90" x2="892.60" y2="679.90" stroke="#000" stroke-width="2.3"/><rect x="872.10" y="687.60" width="27" height="203.30" fill="#d4d5d5"/><text x="886.10" y="674.20" font-size="16.5" text-anchor="middle">b</text><line x1="885.60" y1="890.90" x2="885.60" y2="902.60" stroke="#000" stroke-width="2.3"/><text x="0" y="0" font-size="21.7" text-anchor="end" transform="translate(892.80,921.20) rotate(-45)">Cooked CM</text><text x="0" y="0" font-size="21" text-anchor="middle" transform="translate(672.80,762.15) rotate(-90)">Cohesiveness</text></g>
<g><line x1="1008.50" y1="628.90" x2="1008.50" y2="889.15" stroke="#000" stroke-width="2.3"/><line x1="995.90" y1="888.00" x2="1183.00" y2="888.00" stroke="#000" stroke-width="2.3"/><line x1="1001.00" y1="845.00" x2="1008.50" y2="845.00" stroke="#000" stroke-width="2.3"/><text x="993.20" y="895.90" font-size="21" text-anchor="end">0</text><line x1="995.90" y1="802.00" x2="1008.50" y2="802.00" stroke="#000" stroke-width="2.3"/><line x1="1001.00" y1="759.00" x2="1008.50" y2="759.00" stroke="#000" stroke-width="2.3"/><text x="993.20" y="809.90" font-size="21" text-anchor="end">200</text><line x1="995.90" y1="716.00" x2="1008.50" y2="716.00" stroke="#000" stroke-width="2.3"/><line x1="1001.00" y1="673.00" x2="1008.50" y2="673.00" stroke="#000" stroke-width="2.3"/><text x="993.20" y="723.90" font-size="21" text-anchor="end">400</text><line x1="995.90" y1="630.00" x2="1008.50" y2="630.00" stroke="#000" stroke-width="2.3"/><text x="993.20" y="637.90" font-size="21" text-anchor="end">600</text><line x1="1035.15" y1="834.40" x2="1035.15" y2="838.30" stroke="#000" stroke-width="2.3"/><line x1="1028.15" y1="834.40" x2="1042.15" y2="834.40" stroke="#000" stroke-width="2.3"/><rect x="1021.65" y="837.30" width="27" height="50.70" fill="#0b0909"/><text x="1035.65" y="827.30" font-size="16.5" text-anchor="middle">a</text><line x1="1035.15" y1="888.00" x2="1035.15" y2="899.70" stroke="#000" stroke-width="2.3"/><text x="0" y="0" font-size="21.7" text-anchor="end" transform="translate(1042.35,918.30) rotate(-45)">Pork</text><line x1="1075.05" y1="639.40" x2="1075.05" y2="675.20" stroke="#000" stroke-width="2.3"/><line x1="1068.05" y1="639.40" x2="1082.05" y2="639.40" stroke="#000" stroke-width="2.3"/><rect x="1062.70" y="675.35" width="24.70" height="212.65" fill="#a09fa4" stroke="#000" stroke-width="2.3"/><text x="1075.55" y="632.20" font-size="16.5" text-anchor="middle">b</text><line x1="1075.05" y1="888.00" x2="1075.05" y2="899.70" stroke="#000" stroke-width="2.3"/><text x="0" y="0" font-size="21.7" text-anchor="end" transform="translate(1082.25,918.30) rotate(-45)">Cooked pork</text><line x1="1114.95" y1="859.80" x2="1114.95" y2="864.20" stroke="#000" stroke-width="2.3"/><line x1="1107.95" y1="859.80" x2="1121.95" y2="859.80" stroke="#000" stroke-width="2.3"/><rect x="1102.60" y="864.35" width="24.70" height="23.65" fill="#fff" stroke="#000" stroke-width="2.3"/><text x="1115.45" y="852.40" font-size="16.5" text-anchor="middle">a</text><line x1="1114.95" y1="888.00" x2="1114.95" y2="899.70" stroke="#000" stroke-width="2.3"/><text x="0" y="0" font-size="21.7" text-anchor="end" transform="translate(1122.15,918.30) rotate(-45)">CM</text><line x1="1154.85" y1="813.90" x2="1154.85" y2="827.10" stroke="#000" stroke-width="2.3"/><line x1="1147.85" y1="813.90" x2="1161.85" y2="813.90" stroke="#000" stroke-width="2.3"/><rect x="1141.35" y="826.10" width="27" height="61.90" fill="#d4d5d5"/><text x="1155.35" y="806.70" font-size="16.5" text-anchor="middle">a</text><line x1="1154.85" y1="888.00" x2="1154.85" y2="899.70" stroke="#000" stroke-width="2.3"/><text x="0" y="0" font-size="21.7" text-anchor="end" transform="translate(1162.05,918.30) rotate(-45)">Cooked CM</text><text x="0" y="0" font-size="21" text-anchor="middle" transform="translate(945.90,759.00) rotate(-90)">Chewiness (gf)</text></g>
</svg></body></html>
